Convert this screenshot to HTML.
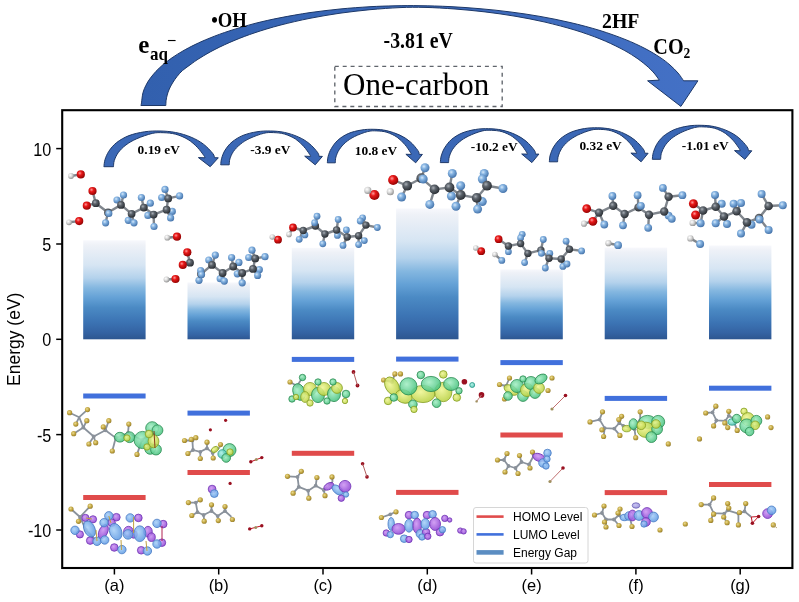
<!DOCTYPE html>
<html><head><meta charset="utf-8"><style>
html,body{margin:0;padding:0;background:#fff;width:799px;height:602px;overflow:hidden}
svg{display:block}
</style></head><body>
<svg width="799" height="602" viewBox="0 0 799 602">
<defs>
<linearGradient id="gap" x1="0" y1="0" x2="0" y2="1">
  <stop offset="0" stop-color="#f7f8fc"/>
  <stop offset="0.05" stop-color="#eef1f7"/>
  <stop offset="0.25" stop-color="#d6e5f3"/>
  <stop offset="0.38" stop-color="#b4d2ec"/>
  <stop offset="0.48" stop-color="#84b7e0"/>
  <stop offset="0.58" stop-color="#64a1d6"/>
  <stop offset="0.68" stop-color="#4b8ac4"/>
  <stop offset="0.82" stop-color="#3c74b4"/>
  <stop offset="0.93" stop-color="#3463a3"/>
  <stop offset="1" stop-color="#2d5690"/>
</linearGradient>
<radialGradient id="gF" cx="0.38" cy="0.35" r="0.7">
  <stop offset="0" stop-color="#d6e8f8"/>
  <stop offset="0.35" stop-color="#86b4e2"/>
  <stop offset="1" stop-color="#3f6ea6"/>
</radialGradient>
<radialGradient id="gC" cx="0.38" cy="0.35" r="0.7">
  <stop offset="0" stop-color="#a9afb6"/>
  <stop offset="0.35" stop-color="#5d646c"/>
  <stop offset="1" stop-color="#25292e"/>
</radialGradient>
<radialGradient id="gO" cx="0.38" cy="0.35" r="0.7">
  <stop offset="0" stop-color="#ff9a9a"/>
  <stop offset="0.35" stop-color="#e81818"/>
  <stop offset="1" stop-color="#8a0000"/>
</radialGradient>
<radialGradient id="gH" cx="0.38" cy="0.35" r="0.7">
  <stop offset="0" stop-color="#ffffff"/>
  <stop offset="0.45" stop-color="#d8d8d8"/>
  <stop offset="1" stop-color="#8c8c8c"/>
</radialGradient>
<radialGradient id="gY" cx="0.4" cy="0.38" r="0.7">
  <stop offset="0" stop-color="#eadc94"/>
  <stop offset="0.5" stop-color="#c4a843"/>
  <stop offset="1" stop-color="#8e7628"/>
</radialGradient>
</defs>

<linearGradient id="arcg" gradientUnits="userSpaceOnUse" x1="140" y1="0" x2="700" y2="0"><stop offset="0" stop-color="#3260ae"/><stop offset="0.5" stop-color="#3a68b8"/><stop offset="1" stop-color="#4471c6"/></linearGradient>
<path d="M140.9,105.5 C141.0,105.1 141.2,105.0 141.5,102.9 C141.8,100.8 142.2,95.6 143.0,92.6 C143.8,89.7 144.8,87.5 146.0,85.2 C147.2,82.8 148.3,80.9 150.0,78.6 C151.7,76.3 153.8,73.7 156.0,71.3 C158.2,69.0 160.3,67.0 163.0,64.7 C165.7,62.5 168.7,60.1 172.0,57.8 C175.3,55.5 179.2,53.1 183.0,50.9 C186.8,48.7 190.5,46.8 195.0,44.6 C199.5,42.4 204.2,40.3 210.0,38.0 C215.8,35.6 222.5,33.1 230.0,30.7 C237.5,28.3 246.7,25.6 255.0,23.4 C263.3,21.3 270.8,19.6 280.0,17.8 C289.2,16.0 300.0,14.1 310.0,12.6 C320.0,11.2 330.0,10.0 340.0,9.0 C350.0,8.0 360.8,7.3 370.0,6.7 C379.2,6.2 386.7,6.0 395.0,5.8 C403.3,5.7 410.8,5.5 420.0,5.7 C429.2,5.8 440.0,6.1 450.0,6.6 C460.0,7.1 470.0,7.8 480.0,8.7 C490.0,9.5 500.0,10.6 510.0,11.9 C520.0,13.2 530.0,14.6 540.0,16.4 C550.0,18.2 560.0,20.1 570.0,22.5 C580.0,24.8 590.8,27.7 600.0,30.5 C609.2,33.4 617.5,36.4 625.0,39.4 C632.5,42.3 639.2,45.5 645.0,48.5 C650.8,51.5 655.8,54.6 660.0,57.4 C664.2,60.1 667.0,62.4 670.0,65.0 C673.0,67.6 675.7,70.4 678.0,73.0 C680.3,75.7 682.7,79.5 683.6,80.8 L697.9,80.8 L680.9,106.4 L647.6,80.8 L659.3,80.1 C658.4,78.9 656.2,75.5 654.0,73.0 C651.8,70.6 649.2,67.9 646.0,65.2 C642.8,62.5 639.3,59.7 635.0,56.9 C630.7,54.0 625.8,51.0 620.0,48.1 C614.2,45.1 607.5,41.9 600.0,38.9 C592.5,35.9 584.2,32.9 575.0,30.1 C565.8,27.3 555.0,24.5 545.0,22.1 C535.0,19.8 525.0,17.9 515.0,16.2 C505.0,14.5 495.0,13.1 485.0,11.9 C475.0,10.7 465.0,9.8 455.0,9.0 C445.0,8.3 434.2,7.6 425.0,7.4 C415.8,7.2 409.2,7.2 400.0,7.6 C390.8,8.0 380.0,8.8 370.0,9.7 C360.0,10.7 350.0,11.8 340.0,13.2 C330.0,14.7 320.0,16.3 310.0,18.3 C300.0,20.3 289.2,22.8 280.0,25.2 C270.8,27.6 262.5,30.2 255.0,32.7 C247.5,35.2 241.7,37.4 235.0,40.2 C228.3,42.9 220.8,46.4 215.0,49.4 C209.2,52.3 204.2,55.4 200.0,58.0 C195.8,60.5 192.9,62.8 190.0,64.9 C187.1,67.0 184.7,68.6 182.5,70.5 C180.3,72.4 178.7,74.4 177.0,76.5 C175.3,78.6 173.8,80.9 172.5,83.0 C171.2,85.1 170.2,87.0 169.3,89.0 C168.4,91.0 167.7,93.1 167.2,95.0 C166.7,96.9 166.3,98.8 166.1,100.5 C165.9,102.2 165.9,104.7 165.8,105.5 Z" fill="url(#arcg)" stroke="#1d3868" stroke-width="1" stroke-linejoin="miter"/>
<path d="M103.9,166.7 C104.1,165.5 104.2,162.3 105.0,159.7 C105.8,157.1 107.0,154.0 108.9,151.2 C110.8,148.3 113.3,145.2 116.6,142.6 C120.0,140.0 124.3,137.4 129.0,135.6 C133.7,133.8 139.4,132.6 144.6,131.8 C149.8,131.0 154.8,130.9 160.0,131.0 C165.2,131.1 170.4,131.5 175.6,132.5 C180.8,133.5 186.5,135.2 191.1,137.2 C195.8,139.1 199.9,141.5 203.5,144.2 C207.1,146.9 211.0,151.2 212.8,153.5 C214.6,155.8 214.2,157.0 214.5,157.7 L218.3,157.8 L210.2,166.7 L198.4,157.6 L205.0,157.8 C204.8,157.4 205.2,157.3 203.9,155.6 C202.6,153.8 200.0,150.0 197.3,147.3 C194.7,144.6 191.6,141.7 188.0,139.5 C184.4,137.3 179.7,135.3 175.6,134.2 C171.5,133.1 167.1,132.8 163.2,132.7 C159.3,132.6 156.7,132.4 152.3,133.4 C147.9,134.4 141.2,136.8 136.8,138.7 C132.4,140.6 129.0,142.7 125.9,145.0 C122.8,147.3 120.1,150.1 118.2,152.7 C116.3,155.3 115.1,158.2 114.3,160.5 C113.5,162.8 113.6,165.7 113.5,166.7 Z" fill="#3b68b6" stroke="#1d3868" stroke-width="1"/>
<path d="M220.7,164.8 C220.9,163.7 220.9,160.6 221.7,158.2 C222.4,155.7 223.4,152.8 225.1,150.1 C226.9,147.4 229.0,144.4 232.0,142.0 C235.0,139.5 238.9,137.1 243.0,135.4 C247.2,133.7 252.3,132.5 256.9,131.8 C261.5,131.0 266.0,130.9 270.6,131.0 C275.2,131.1 279.8,131.4 284.4,132.4 C289.0,133.4 294.1,135.0 298.2,136.9 C302.4,138.7 306.0,140.9 309.2,143.5 C312.5,146.1 315.9,150.2 317.5,152.3 C319.1,154.4 318.8,155.6 319.0,156.3 L322.4,156.4 L315.2,164.8 L304.7,156.2 L310.6,156.4 C310.4,156.0 310.7,155.9 309.6,154.3 C308.5,152.6 306.1,149.0 303.7,146.4 C301.4,143.9 298.7,141.1 295.5,139.0 C292.2,137.0 288.1,135.1 284.4,134.0 C280.8,133.0 276.9,132.7 273.4,132.6 C270.0,132.5 267.6,132.3 263.7,133.3 C259.8,134.2 253.9,136.5 249.9,138.3 C246.0,140.1 243.0,142.0 240.3,144.3 C237.5,146.5 235.1,149.1 233.4,151.5 C231.7,154.0 230.6,156.7 229.9,158.9 C229.2,161.1 229.4,163.8 229.2,164.8 Z" fill="#3b68b6" stroke="#1d3868" stroke-width="1"/>
<path d="M327.3,162.8 C327.5,161.7 327.5,158.7 328.2,156.2 C328.9,153.8 329.8,150.9 331.5,148.3 C333.1,145.6 335.1,142.6 337.9,140.2 C340.6,137.7 344.3,135.3 348.2,133.6 C352.0,131.9 356.8,130.8 361.1,130.1 C365.4,129.3 369.6,129.2 373.9,129.3 C378.2,129.4 382.6,129.7 386.9,130.7 C391.2,131.7 395.9,133.3 399.8,135.1 C403.7,136.9 407.1,139.1 410.1,141.7 C413.1,144.2 416.3,148.3 417.8,150.4 C419.4,152.5 419.0,153.7 419.2,154.4 L422.4,154.4 L415.7,162.8 L405.9,154.3 L411.3,154.4 C411.2,154.1 411.5,154.0 410.4,152.4 C409.4,150.7 407.1,147.1 404.9,144.6 C402.7,142.1 400.2,139.3 397.2,137.3 C394.2,135.2 390.3,133.4 386.9,132.3 C383.5,131.2 379.8,131.0 376.6,130.9 C373.4,130.8 371.2,130.6 367.5,131.6 C363.9,132.5 358.3,134.7 354.6,136.5 C351.0,138.3 348.2,140.2 345.6,142.4 C343.0,144.6 340.8,147.2 339.2,149.7 C337.6,152.1 336.6,154.8 335.9,157.0 C335.3,159.2 335.4,161.8 335.3,162.8 Z" fill="#3b68b6" stroke="#1d3868" stroke-width="1"/>
<path d="M440.3,162.6 C440.5,161.5 440.5,158.4 441.2,156.0 C442.0,153.5 442.9,150.6 444.6,147.9 C446.3,145.2 448.4,142.2 451.2,139.7 C454.1,137.2 457.9,134.8 461.9,133.1 C466.0,131.4 470.9,130.2 475.4,129.5 C479.8,128.7 484.2,128.6 488.7,128.7 C493.1,128.8 497.6,129.1 502.1,130.1 C506.6,131.1 511.4,132.7 515.5,134.6 C519.5,136.4 523.0,138.7 526.1,141.2 C529.3,143.8 532.6,147.9 534.2,150.1 C535.7,152.2 535.4,153.4 535.6,154.1 L538.9,154.1 L531.9,162.6 L521.7,154.0 L527.4,154.1 C527.3,153.8 527.6,153.7 526.5,152.1 C525.4,150.4 523.1,146.7 520.8,144.2 C518.5,141.6 515.9,138.8 512.8,136.8 C509.7,134.7 505.7,132.8 502.1,131.7 C498.5,130.7 494.8,130.4 491.4,130.3 C488.1,130.2 485.8,130.0 482.0,131.0 C478.2,131.9 472.4,134.2 468.7,136.0 C464.9,137.8 461.9,139.8 459.3,142.0 C456.6,144.2 454.3,146.9 452.6,149.3 C451.0,151.8 449.9,154.5 449.3,156.7 C448.6,158.9 448.7,161.6 448.6,162.6 Z" fill="#3b68b6" stroke="#1d3868" stroke-width="1"/>
<path d="M549.3,161.8 C549.5,160.7 549.5,157.6 550.2,155.1 C551.0,152.7 551.9,149.8 553.6,147.0 C555.3,144.3 557.4,141.3 560.3,138.8 C563.2,136.4 566.9,133.9 571.0,132.2 C575.0,130.5 580.0,129.3 584.4,128.6 C588.9,127.8 593.3,127.7 597.8,127.8 C602.2,127.9 606.7,128.2 611.2,129.2 C615.7,130.2 620.6,131.8 624.6,133.7 C628.6,135.6 632.2,137.8 635.3,140.4 C638.4,143.0 641.8,147.1 643.4,149.2 C644.9,151.4 644.6,152.6 644.8,153.2 L648.1,153.3 L641.1,161.8 L630.9,153.1 L636.6,153.3 C636.5,153.0 636.8,152.9 635.7,151.2 C634.6,149.6 632.3,145.9 630.0,143.3 C627.7,140.8 625.1,138.0 621.9,135.9 C618.8,133.8 614.8,131.9 611.2,130.8 C607.7,129.8 603.9,129.5 600.5,129.4 C597.2,129.3 594.9,129.1 591.1,130.1 C587.3,131.0 581.5,133.3 577.7,135.1 C573.9,137.0 571.0,138.9 568.3,141.1 C565.6,143.4 563.3,146.0 561.6,148.5 C560.0,150.9 559.0,153.7 558.3,155.9 C557.6,158.1 557.7,160.8 557.6,161.8 Z" fill="#3b68b6" stroke="#1d3868" stroke-width="1"/>
<path d="M652.3,159.3 C652.5,158.2 652.5,155.1 653.3,152.6 C654.0,150.2 655.0,147.3 656.6,144.5 C658.3,141.8 660.4,138.8 663.3,136.3 C666.3,133.9 670.1,131.4 674.1,129.7 C678.2,128.0 683.2,126.8 687.7,126.1 C692.2,125.3 696.6,125.2 701.1,125.3 C705.6,125.4 710.2,125.7 714.7,126.7 C719.2,127.7 724.1,129.3 728.1,131.2 C732.2,133.1 735.8,135.3 738.9,137.9 C742.1,140.5 745.4,144.6 747.0,146.7 C748.6,148.9 748.2,150.1 748.5,150.7 L751.8,150.8 L744.8,159.3 L734.5,150.6 L740.2,150.8 C740.1,150.5 740.4,150.4 739.3,148.7 C738.2,147.1 735.8,143.4 733.5,140.8 C731.2,138.3 728.6,135.5 725.4,133.4 C722.3,131.3 718.3,129.4 714.7,128.3 C711.1,127.3 707.3,127.0 703.9,126.9 C700.5,126.8 698.2,126.6 694.4,127.6 C690.6,128.5 684.7,130.8 680.9,132.6 C677.1,134.5 674.1,136.4 671.4,138.6 C668.7,140.9 666.4,143.5 664.7,146.0 C663.1,148.4 662.0,151.2 661.3,153.4 C660.7,155.6 660.8,158.3 660.6,159.3 Z" fill="#3b68b6" stroke="#1d3868" stroke-width="1"/>
<text transform="translate(138.3,53.1) scale(1,1.000)" font-family="Liberation Serif, serif" font-weight="bold" font-size="25.0">e</text>
<text transform="translate(150.0,59.5) scale(1,1.100)" font-family="Liberation Serif, serif" font-weight="bold" font-size="17.0">aq</text>
<text transform="translate(166.9,45.9) scale(1,1.000)" font-family="Liberation Serif, serif" font-weight="bold" font-size="16.5">&#8722;</text>
<text transform="translate(211.2,26.6) scale(1,1.130)" font-family="Liberation Serif, serif" font-weight="bold" font-size="18.7">&#8226;OH</text>
<text transform="translate(383.6,48.1) scale(1,1.130)" font-family="Liberation Serif, serif" font-weight="bold" font-size="19.8">-3.81 eV</text>
<text transform="translate(602.0,28.4) scale(1,1.060)" font-family="Liberation Serif, serif" font-weight="bold" font-size="19.8">2HF</text>
<text transform="translate(653.3,54.0) scale(1,1.100)" font-family="Liberation Serif, serif" font-weight="bold" font-size="20.2">CO<tspan font-size="13.5" dy="3.9">2</tspan></text>
<rect x="334.8" y="66.3" width="167.4" height="40.2" fill="none" stroke="#60656c" stroke-width="1.35" stroke-dasharray="4,3.9"/>
<text x="343" y="95" font-family="Liberation Serif, serif" font-size="31">One-carbon</text>
<text transform="translate(137.6,154.0) scale(1,0.980)" font-family="Liberation Serif, serif" font-weight="bold" font-size="13.4">0.19 eV</text>
<text transform="translate(250.3,153.5) scale(1,0.980)" font-family="Liberation Serif, serif" font-weight="bold" font-size="13.4">-3.9 eV</text>
<text transform="translate(354.8,154.8) scale(1,0.980)" font-family="Liberation Serif, serif" font-weight="bold" font-size="13.4">10.8 eV</text>
<text transform="translate(470.8,150.8) scale(1,0.980)" font-family="Liberation Serif, serif" font-weight="bold" font-size="13.4">-10.2 eV</text>
<text transform="translate(579.4,149.5) scale(1,0.980)" font-family="Liberation Serif, serif" font-weight="bold" font-size="13.4">0.32 eV</text>
<text transform="translate(681.8,149.8) scale(1,0.980)" font-family="Liberation Serif, serif" font-weight="bold" font-size="13.4">-1.01 eV</text>
<rect x="83.2" y="240.3" width="62.4" height="99.0" fill="url(#gap)"/>
<rect x="187.5" y="282.4" width="62.4" height="56.9" fill="url(#gap)"/>
<rect x="291.8" y="247.9" width="62.4" height="91.4" fill="url(#gap)"/>
<rect x="396.1" y="208.5" width="62.4" height="130.8" fill="url(#gap)"/>
<rect x="500.4" y="269.4" width="62.4" height="69.9" fill="url(#gap)"/>
<rect x="604.7" y="247.6" width="62.4" height="91.7" fill="url(#gap)"/>
<rect x="709.0" y="245.5" width="62.4" height="93.8" fill="url(#gap)"/>
<rect x="62.2" y="110.2" width="730.2" height="457.8" fill="none" stroke="#000" stroke-width="2.1"/>
<line x1="56.2" y1="148.6" x2="62.2" y2="148.6" stroke="#000" stroke-width="1.5"/>
<text transform="translate(51.3,155.70) scale(1,1.1)" font-family="Liberation Sans, sans-serif" font-size="16.2" text-anchor="end">10</text>
<line x1="56.2" y1="244.0" x2="62.2" y2="244.0" stroke="#000" stroke-width="1.5"/>
<text transform="translate(51.3,251.05) scale(1,1.1)" font-family="Liberation Sans, sans-serif" font-size="16.2" text-anchor="end">5</text>
<line x1="56.2" y1="339.3" x2="62.2" y2="339.3" stroke="#000" stroke-width="1.5"/>
<text transform="translate(51.3,346.40) scale(1,1.1)" font-family="Liberation Sans, sans-serif" font-size="16.2" text-anchor="end">0</text>
<line x1="56.2" y1="434.6" x2="62.2" y2="434.6" stroke="#000" stroke-width="1.5"/>
<text transform="translate(51.3,441.75) scale(1,1.1)" font-family="Liberation Sans, sans-serif" font-size="16.2" text-anchor="end">-5</text>
<line x1="56.2" y1="530.0" x2="62.2" y2="530.0" stroke="#000" stroke-width="1.5"/>
<text transform="translate(51.3,537.10) scale(1,1.1)" font-family="Liberation Sans, sans-serif" font-size="16.2" text-anchor="end">-10</text>
<text transform="translate(20.3,339.3) rotate(-90)" font-family="Liberation Sans, sans-serif" font-size="17.5" text-anchor="middle">Energy (eV)</text>
<line x1="114.4" y1="568" x2="114.4" y2="574.5" stroke="#000" stroke-width="1.5"/>
<text transform="translate(114.4,591.2) scale(1,1.05)" font-family="Liberation Sans, sans-serif" font-size="16.5" text-anchor="middle">(a)</text>
<line x1="218.7" y1="568" x2="218.7" y2="574.5" stroke="#000" stroke-width="1.5"/>
<text transform="translate(218.7,591.2) scale(1,1.05)" font-family="Liberation Sans, sans-serif" font-size="16.5" text-anchor="middle">(b)</text>
<line x1="323.0" y1="568" x2="323.0" y2="574.5" stroke="#000" stroke-width="1.5"/>
<text transform="translate(323.0,591.2) scale(1,1.05)" font-family="Liberation Sans, sans-serif" font-size="16.5" text-anchor="middle">(c)</text>
<line x1="427.3" y1="568" x2="427.3" y2="574.5" stroke="#000" stroke-width="1.5"/>
<text transform="translate(427.3,591.2) scale(1,1.05)" font-family="Liberation Sans, sans-serif" font-size="16.5" text-anchor="middle">(d)</text>
<line x1="531.6" y1="568" x2="531.6" y2="574.5" stroke="#000" stroke-width="1.5"/>
<text transform="translate(531.6,591.2) scale(1,1.05)" font-family="Liberation Sans, sans-serif" font-size="16.5" text-anchor="middle">(e)</text>
<line x1="635.9" y1="568" x2="635.9" y2="574.5" stroke="#000" stroke-width="1.5"/>
<text transform="translate(635.9,591.2) scale(1,1.05)" font-family="Liberation Sans, sans-serif" font-size="16.5" text-anchor="middle">(f)</text>
<line x1="740.2" y1="568" x2="740.2" y2="574.5" stroke="#000" stroke-width="1.5"/>
<text transform="translate(740.2,591.2) scale(1,1.05)" font-family="Liberation Sans, sans-serif" font-size="16.5" text-anchor="middle">(g)</text>
<g stroke="#80868d" stroke-width="2.4" stroke-linecap="round"><line x1="95.8" y1="203.2" x2="108.0" y2="212.5"/><line x1="108.0" y1="212.5" x2="121.0" y2="204.9"/><line x1="121.0" y1="204.9" x2="131.6" y2="213.8"/><line x1="131.6" y1="213.8" x2="143.8" y2="207.6"/><line x1="143.8" y1="207.6" x2="153.6" y2="214.6"/><line x1="153.6" y1="214.6" x2="166.6" y2="209.7"/><line x1="166.6" y1="209.7" x2="168.2" y2="198.4"/><line x1="123.5" y1="195.0" x2="121.0" y2="204.9"/><line x1="117.0" y1="200.0" x2="121.0" y2="204.9"/><line x1="108.8" y1="213.5" x2="108.0" y2="212.5"/><line x1="105.6" y1="222.8" x2="108.0" y2="212.5"/><line x1="128.3" y1="220.3" x2="131.6" y2="213.8"/><line x1="134.0" y1="222.8" x2="131.6" y2="213.8"/><line x1="141.4" y1="197.5" x2="143.8" y2="207.6"/><line x1="150.3" y1="203.2" x2="143.8" y2="207.6"/><line x1="147.9" y1="215.4" x2="153.6" y2="214.6"/><line x1="154.0" y1="226.5" x2="153.6" y2="214.6"/><line x1="165.0" y1="189.4" x2="168.2" y2="198.4"/><line x1="161.7" y1="197.5" x2="168.2" y2="198.4"/><line x1="179.6" y1="195.9" x2="168.2" y2="198.4"/><line x1="172.3" y1="211.4" x2="166.6" y2="209.7"/><line x1="170.6" y1="217.9" x2="166.6" y2="209.7"/><line x1="92.5" y1="191.0" x2="95.8" y2="203.2"/><line x1="86.8" y1="205.7" x2="95.8" y2="203.2"/><line x1="71.0" y1="176.0" x2="80.8" y2="174.4"/><line x1="69.0" y1="222.3" x2="79.2" y2="221.1"/><line x1="201.0" y1="274.0" x2="212.0" y2="264.9"/><line x1="212.0" y1="264.9" x2="222.6" y2="273.0"/><line x1="222.6" y1="273.0" x2="233.2" y2="266.5"/><line x1="233.2" y1="266.5" x2="242.2" y2="273.0"/><line x1="242.2" y1="273.0" x2="253.0" y2="268.9"/><line x1="253.0" y1="268.9" x2="255.2" y2="258.4"/><line x1="200.7" y1="270.6" x2="201.0" y2="274.0"/><line x1="199.0" y1="280.3" x2="201.0" y2="274.0"/><line x1="215.3" y1="255.1" x2="212.0" y2="264.9"/><line x1="208.8" y1="260.0" x2="212.0" y2="264.9"/><line x1="220.2" y1="278.7" x2="222.6" y2="273.0"/><line x1="224.3" y1="281.1" x2="222.6" y2="273.0"/><line x1="231.6" y1="257.5" x2="233.2" y2="266.5"/><line x1="238.9" y1="262.4" x2="233.2" y2="266.5"/><line x1="242.2" y1="282.8" x2="242.2" y2="273.0"/><line x1="237.3" y1="273.8" x2="242.2" y2="273.0"/><line x1="259.3" y1="269.7" x2="253.0" y2="268.9"/><line x1="257.6" y1="275.4" x2="253.0" y2="268.9"/><line x1="252.0" y1="250.2" x2="255.2" y2="258.4"/><line x1="248.7" y1="257.5" x2="255.2" y2="258.4"/><line x1="265.0" y1="256.7" x2="255.2" y2="258.4"/><line x1="201.5" y1="274.6" x2="201.0" y2="274.0"/><line x1="187.3" y1="252.3" x2="190.0" y2="262.7"/><line x1="182.8" y1="264.9" x2="190.0" y2="262.7"/><line x1="167.3" y1="237.7" x2="177.0" y2="236.7"/><line x1="166.5" y1="279.5" x2="175.5" y2="279.0"/><line x1="303.2" y1="230.5" x2="315.4" y2="226.0"/><line x1="315.4" y1="226.0" x2="324.9" y2="234.0"/><line x1="324.9" y1="234.0" x2="336.6" y2="230.0"/><line x1="336.6" y1="230.0" x2="347.2" y2="237.0"/><line x1="347.2" y1="237.0" x2="358.6" y2="235.7"/><line x1="358.6" y1="235.7" x2="365.9" y2="225.1"/><line x1="299.2" y1="239.3" x2="303.2" y2="230.5"/><line x1="304.9" y1="234.9" x2="303.2" y2="230.5"/><line x1="317.0" y1="216.2" x2="315.4" y2="226.0"/><line x1="314.6" y1="222.7" x2="315.4" y2="226.0"/><line x1="322.8" y1="243.8" x2="324.9" y2="234.0"/><line x1="338.2" y1="219.4" x2="336.6" y2="230.0"/><line x1="337.4" y1="235.4" x2="336.6" y2="230.0"/><line x1="346.4" y1="230.0" x2="347.2" y2="237.0"/><line x1="343.0" y1="245.4" x2="347.2" y2="237.0"/><line x1="358.6" y1="244.6" x2="358.6" y2="235.7"/><line x1="364.3" y1="240.6" x2="358.6" y2="235.7"/><line x1="362.6" y1="217.8" x2="365.9" y2="225.1"/><line x1="360.2" y1="221.0" x2="365.9" y2="225.1"/><line x1="377.3" y1="227.5" x2="365.9" y2="225.1"/><line x1="293.0" y1="227.5" x2="303.2" y2="230.5"/><line x1="272.3" y1="237.0" x2="278.0" y2="239.7"/><line x1="289.0" y1="234.4" x2="293.0" y2="227.5"/><line x1="407.2" y1="185.7" x2="421.3" y2="178.2"/><line x1="421.3" y1="178.2" x2="434.5" y2="189.4"/><line x1="434.5" y1="189.4" x2="449.5" y2="187.5"/><line x1="449.5" y1="187.5" x2="460.7" y2="195.0"/><line x1="460.7" y1="195.0" x2="476.7" y2="197.9"/><line x1="476.7" y1="197.9" x2="487.0" y2="185.7"/><line x1="401.6" y1="197.0" x2="407.2" y2="185.7"/><line x1="425.0" y1="167.8" x2="421.3" y2="178.2"/><line x1="423.2" y1="179.0" x2="421.3" y2="178.2"/><line x1="429.8" y1="204.4" x2="434.5" y2="189.4"/><line x1="452.3" y1="173.5" x2="449.5" y2="187.5"/><line x1="451.4" y1="196.0" x2="449.5" y2="187.5"/><line x1="460.7" y1="185.7" x2="460.7" y2="195.0"/><line x1="456.0" y1="206.3" x2="460.7" y2="195.0"/><line x1="477.6" y1="209.1" x2="476.7" y2="197.9"/><line x1="482.3" y1="201.6" x2="476.7" y2="197.9"/><line x1="484.2" y1="173.5" x2="487.0" y2="185.7"/><line x1="482.3" y1="179.0" x2="487.0" y2="185.7"/><line x1="503.0" y1="188.5" x2="487.0" y2="185.7"/><line x1="393.2" y1="180.0" x2="407.2" y2="185.7"/><line x1="367.8" y1="190.4" x2="374.4" y2="195.0"/><line x1="508.4" y1="246.0" x2="520.6" y2="243.6"/><line x1="520.6" y1="243.6" x2="527.9" y2="253.4"/><line x1="527.9" y1="253.4" x2="540.9" y2="250.1"/><line x1="540.9" y1="250.1" x2="549.0" y2="258.2"/><line x1="549.0" y1="258.2" x2="561.2" y2="259.0"/><line x1="561.2" y1="259.0" x2="569.4" y2="249.3"/><line x1="508.4" y1="251.7" x2="508.4" y2="246.0"/><line x1="522.2" y1="234.3" x2="520.6" y2="243.6"/><line x1="520.6" y1="237.9" x2="520.6" y2="243.6"/><line x1="524.6" y1="262.6" x2="527.9" y2="253.4"/><line x1="543.3" y1="239.5" x2="540.9" y2="250.1"/><line x1="541.4" y1="253.4" x2="540.9" y2="250.1"/><line x1="549.8" y1="253.4" x2="549.0" y2="258.2"/><line x1="545.3" y1="268.0" x2="549.0" y2="258.2"/><line x1="562.9" y1="266.4" x2="561.2" y2="259.0"/><line x1="567.0" y1="264.0" x2="561.2" y2="259.0"/><line x1="566.1" y1="241.2" x2="569.4" y2="249.3"/><line x1="581.6" y1="250.9" x2="569.4" y2="249.3"/><line x1="498.6" y1="239.2" x2="508.4" y2="246.0"/><line x1="475.8" y1="248.0" x2="481.2" y2="251.2"/><line x1="494.9" y1="254.5" x2="501.8" y2="260.4"/><line x1="599.0" y1="212.6" x2="613.2" y2="205.8"/><line x1="613.2" y1="205.8" x2="624.6" y2="214.0"/><line x1="624.6" y1="214.0" x2="638.5" y2="207.4"/><line x1="638.5" y1="207.4" x2="649.0" y2="214.7"/><line x1="649.0" y1="214.7" x2="664.2" y2="211.5"/><line x1="664.2" y1="211.5" x2="668.6" y2="196.8"/><line x1="604.3" y1="224.5" x2="599.0" y2="212.6"/><line x1="612.4" y1="196.0" x2="613.2" y2="205.8"/><line x1="623.0" y1="225.3" x2="624.6" y2="214.0"/><line x1="637.6" y1="195.2" x2="638.5" y2="207.4"/><line x1="640.9" y1="205.8" x2="638.5" y2="207.4"/><line x1="648.2" y1="227.8" x2="649.0" y2="214.7"/><line x1="668.6" y1="215.6" x2="664.2" y2="211.5"/><line x1="671.8" y1="218.8" x2="664.2" y2="211.5"/><line x1="662.9" y1="187.9" x2="668.6" y2="196.8"/><line x1="682.4" y1="195.2" x2="668.6" y2="196.8"/><line x1="586.7" y1="208.7" x2="599.0" y2="212.6"/><line x1="592.9" y1="221.3" x2="599.0" y2="212.6"/><line x1="584.0" y1="223.7" x2="592.9" y2="221.3"/><line x1="608.4" y1="243.2" x2="618.1" y2="245.2"/><line x1="703.1" y1="210.5" x2="715.7" y2="206.8"/><line x1="715.7" y1="206.8" x2="724.0" y2="216.5"/><line x1="724.0" y1="216.5" x2="736.6" y2="211.3"/><line x1="736.6" y1="211.3" x2="747.0" y2="222.4"/><line x1="747.0" y1="222.4" x2="759.0" y2="218.0"/><line x1="759.0" y1="218.0" x2="768.6" y2="206.0"/><line x1="715.0" y1="194.9" x2="715.7" y2="206.8"/><line x1="721.7" y1="203.8" x2="715.7" y2="206.8"/><line x1="715.7" y1="223.2" x2="724.0" y2="216.5"/><line x1="727.0" y1="224.0" x2="724.0" y2="216.5"/><line x1="733.6" y1="203.8" x2="736.6" y2="211.3"/><line x1="741.0" y1="203.0" x2="736.6" y2="211.3"/><line x1="741.0" y1="233.6" x2="747.0" y2="222.4"/><line x1="751.5" y1="224.7" x2="747.0" y2="222.4"/><line x1="768.6" y1="229.9" x2="759.0" y2="218.0"/><line x1="759.5" y1="219.5" x2="759.0" y2="218.0"/><line x1="761.6" y1="194.1" x2="768.6" y2="206.0"/><line x1="782.8" y1="205.3" x2="768.6" y2="206.0"/><line x1="700.6" y1="223.2" x2="703.1" y2="210.5"/><line x1="693.4" y1="203.8" x2="703.1" y2="210.5"/><line x1="695.6" y1="215.0" x2="703.1" y2="210.5"/><line x1="692.7" y1="222.9" x2="700.6" y2="223.2"/><line x1="690.4" y1="238.4" x2="700.1" y2="244.0"/></g>
<circle cx="123.5" cy="195.0" r="3.6" fill="url(#gF)"/><circle cx="117.0" cy="200.0" r="3.6" fill="url(#gF)"/><circle cx="105.6" cy="222.8" r="3.6" fill="url(#gF)"/><circle cx="128.3" cy="220.3" r="3.6" fill="url(#gF)"/><circle cx="134.0" cy="222.8" r="3.6" fill="url(#gF)"/><circle cx="141.4" cy="197.5" r="3.6" fill="url(#gF)"/><circle cx="150.3" cy="203.2" r="3.6" fill="url(#gF)"/><circle cx="147.9" cy="215.4" r="3.6" fill="url(#gF)"/><circle cx="154.0" cy="226.5" r="3.6" fill="url(#gF)"/><circle cx="165.0" cy="189.4" r="3.6" fill="url(#gF)"/><circle cx="161.7" cy="197.5" r="3.6" fill="url(#gF)"/><circle cx="179.6" cy="195.9" r="3.6" fill="url(#gF)"/><circle cx="172.3" cy="211.4" r="3.6" fill="url(#gF)"/><circle cx="170.6" cy="217.9" r="3.6" fill="url(#gF)"/><circle cx="199.0" cy="280.3" r="3.6" fill="url(#gF)"/><circle cx="215.3" cy="255.1" r="3.6" fill="url(#gF)"/><circle cx="208.8" cy="260.0" r="3.6" fill="url(#gF)"/><circle cx="220.2" cy="278.7" r="3.6" fill="url(#gF)"/><circle cx="224.3" cy="281.1" r="3.6" fill="url(#gF)"/><circle cx="231.6" cy="257.5" r="3.6" fill="url(#gF)"/><circle cx="238.9" cy="262.4" r="3.6" fill="url(#gF)"/><circle cx="242.2" cy="282.8" r="3.6" fill="url(#gF)"/><circle cx="237.3" cy="273.8" r="3.6" fill="url(#gF)"/><circle cx="259.3" cy="269.7" r="3.6" fill="url(#gF)"/><circle cx="257.6" cy="275.4" r="3.6" fill="url(#gF)"/><circle cx="252.0" cy="250.2" r="3.6" fill="url(#gF)"/><circle cx="248.7" cy="257.5" r="3.6" fill="url(#gF)"/><circle cx="265.0" cy="256.7" r="3.6" fill="url(#gF)"/><circle cx="299.2" cy="239.3" r="3.4" fill="url(#gF)"/><circle cx="304.9" cy="234.9" r="3.4" fill="url(#gF)"/><circle cx="317.0" cy="216.2" r="3.4" fill="url(#gF)"/><circle cx="322.8" cy="243.8" r="3.4" fill="url(#gF)"/><circle cx="338.2" cy="219.4" r="3.4" fill="url(#gF)"/><circle cx="337.4" cy="235.4" r="3.4" fill="url(#gF)"/><circle cx="346.4" cy="230.0" r="3.4" fill="url(#gF)"/><circle cx="343.0" cy="245.4" r="3.4" fill="url(#gF)"/><circle cx="358.6" cy="244.6" r="3.4" fill="url(#gF)"/><circle cx="364.3" cy="240.6" r="3.4" fill="url(#gF)"/><circle cx="362.6" cy="217.8" r="3.4" fill="url(#gF)"/><circle cx="360.2" cy="221.0" r="3.4" fill="url(#gF)"/><circle cx="377.3" cy="227.5" r="3.4" fill="url(#gF)"/><circle cx="401.6" cy="197.0" r="4.5" fill="url(#gF)"/><circle cx="425.0" cy="167.8" r="4.5" fill="url(#gF)"/><circle cx="429.8" cy="204.4" r="4.5" fill="url(#gF)"/><circle cx="452.3" cy="173.5" r="4.5" fill="url(#gF)"/><circle cx="451.4" cy="196.0" r="4.5" fill="url(#gF)"/><circle cx="460.7" cy="185.7" r="4.5" fill="url(#gF)"/><circle cx="456.0" cy="206.3" r="4.5" fill="url(#gF)"/><circle cx="477.6" cy="209.1" r="4.5" fill="url(#gF)"/><circle cx="482.3" cy="201.6" r="4.5" fill="url(#gF)"/><circle cx="484.2" cy="173.5" r="4.5" fill="url(#gF)"/><circle cx="482.3" cy="179.0" r="4.5" fill="url(#gF)"/><circle cx="503.0" cy="188.5" r="4.5" fill="url(#gF)"/><circle cx="508.4" cy="251.7" r="3.4" fill="url(#gF)"/><circle cx="522.2" cy="234.3" r="3.4" fill="url(#gF)"/><circle cx="520.6" cy="237.9" r="3.4" fill="url(#gF)"/><circle cx="524.6" cy="262.6" r="3.4" fill="url(#gF)"/><circle cx="543.3" cy="239.5" r="3.4" fill="url(#gF)"/><circle cx="549.8" cy="253.4" r="3.4" fill="url(#gF)"/><circle cx="545.3" cy="268.0" r="3.4" fill="url(#gF)"/><circle cx="562.9" cy="266.4" r="3.4" fill="url(#gF)"/><circle cx="567.0" cy="264.0" r="3.4" fill="url(#gF)"/><circle cx="566.1" cy="241.2" r="3.4" fill="url(#gF)"/><circle cx="581.6" cy="250.9" r="3.4" fill="url(#gF)"/><circle cx="501.8" cy="260.4" r="3.4" fill="url(#gF)"/><circle cx="604.3" cy="224.5" r="3.9" fill="url(#gF)"/><circle cx="612.4" cy="196.0" r="3.9" fill="url(#gF)"/><circle cx="623.0" cy="225.3" r="3.9" fill="url(#gF)"/><circle cx="637.6" cy="195.2" r="3.9" fill="url(#gF)"/><circle cx="648.2" cy="227.8" r="3.9" fill="url(#gF)"/><circle cx="668.6" cy="215.6" r="3.9" fill="url(#gF)"/><circle cx="671.8" cy="218.8" r="3.9" fill="url(#gF)"/><circle cx="662.9" cy="187.9" r="3.9" fill="url(#gF)"/><circle cx="682.4" cy="195.2" r="3.9" fill="url(#gF)"/><circle cx="618.1" cy="245.2" r="3.9" fill="url(#gF)"/><circle cx="715.0" cy="194.9" r="4.0" fill="url(#gF)"/><circle cx="721.7" cy="203.8" r="4.0" fill="url(#gF)"/><circle cx="715.7" cy="223.2" r="4.0" fill="url(#gF)"/><circle cx="727.0" cy="224.0" r="4.0" fill="url(#gF)"/><circle cx="733.6" cy="203.8" r="4.0" fill="url(#gF)"/><circle cx="741.0" cy="203.0" r="4.0" fill="url(#gF)"/><circle cx="741.0" cy="233.6" r="4.0" fill="url(#gF)"/><circle cx="751.5" cy="224.7" r="4.0" fill="url(#gF)"/><circle cx="768.6" cy="229.9" r="4.0" fill="url(#gF)"/><circle cx="761.6" cy="194.1" r="4.0" fill="url(#gF)"/><circle cx="782.8" cy="205.3" r="4.0" fill="url(#gF)"/><circle cx="700.6" cy="223.2" r="4.0" fill="url(#gF)"/><circle cx="700.1" cy="244.0" r="4.0" fill="url(#gF)"/><circle cx="95.8" cy="203.2" r="3.9" fill="url(#gC)"/><circle cx="108.0" cy="212.5" r="3.9" fill="url(#gC)"/><circle cx="121.0" cy="204.9" r="3.9" fill="url(#gC)"/><circle cx="131.6" cy="213.8" r="3.9" fill="url(#gC)"/><circle cx="143.8" cy="207.6" r="3.9" fill="url(#gC)"/><circle cx="153.6" cy="214.6" r="3.9" fill="url(#gC)"/><circle cx="166.6" cy="209.7" r="3.9" fill="url(#gC)"/><circle cx="168.2" cy="198.4" r="3.9" fill="url(#gC)"/><circle cx="190.0" cy="262.7" r="3.9" fill="url(#gC)"/><circle cx="201.0" cy="274.0" r="3.9" fill="url(#gC)"/><circle cx="212.0" cy="264.9" r="3.9" fill="url(#gC)"/><circle cx="222.6" cy="273.0" r="3.9" fill="url(#gC)"/><circle cx="233.2" cy="266.5" r="3.9" fill="url(#gC)"/><circle cx="242.2" cy="273.0" r="3.9" fill="url(#gC)"/><circle cx="253.0" cy="268.9" r="3.9" fill="url(#gC)"/><circle cx="255.2" cy="258.4" r="3.9" fill="url(#gC)"/><circle cx="303.2" cy="230.5" r="3.7" fill="url(#gC)"/><circle cx="315.4" cy="226.0" r="3.7" fill="url(#gC)"/><circle cx="324.9" cy="234.0" r="3.7" fill="url(#gC)"/><circle cx="336.6" cy="230.0" r="3.7" fill="url(#gC)"/><circle cx="347.2" cy="237.0" r="3.7" fill="url(#gC)"/><circle cx="358.6" cy="235.7" r="3.7" fill="url(#gC)"/><circle cx="365.9" cy="225.1" r="3.7" fill="url(#gC)"/><circle cx="407.2" cy="185.7" r="4.9" fill="url(#gC)"/><circle cx="421.3" cy="178.2" r="4.9" fill="url(#gC)"/><circle cx="434.5" cy="189.4" r="4.9" fill="url(#gC)"/><circle cx="449.5" cy="187.5" r="4.9" fill="url(#gC)"/><circle cx="460.7" cy="195.0" r="4.9" fill="url(#gC)"/><circle cx="476.7" cy="197.9" r="4.9" fill="url(#gC)"/><circle cx="487.0" cy="185.7" r="4.9" fill="url(#gC)"/><circle cx="508.4" cy="246.0" r="3.7" fill="url(#gC)"/><circle cx="520.6" cy="243.6" r="3.7" fill="url(#gC)"/><circle cx="527.9" cy="253.4" r="3.7" fill="url(#gC)"/><circle cx="540.9" cy="250.1" r="3.7" fill="url(#gC)"/><circle cx="549.0" cy="258.2" r="3.7" fill="url(#gC)"/><circle cx="561.2" cy="259.0" r="3.7" fill="url(#gC)"/><circle cx="569.4" cy="249.3" r="3.7" fill="url(#gC)"/><circle cx="599.0" cy="212.6" r="4.2" fill="url(#gC)"/><circle cx="613.2" cy="205.8" r="4.2" fill="url(#gC)"/><circle cx="624.6" cy="214.0" r="4.2" fill="url(#gC)"/><circle cx="638.5" cy="207.4" r="4.2" fill="url(#gC)"/><circle cx="649.0" cy="214.7" r="4.2" fill="url(#gC)"/><circle cx="664.2" cy="211.5" r="4.2" fill="url(#gC)"/><circle cx="668.6" cy="196.8" r="4.2" fill="url(#gC)"/><circle cx="703.1" cy="210.5" r="4.3" fill="url(#gC)"/><circle cx="715.7" cy="206.8" r="4.3" fill="url(#gC)"/><circle cx="724.0" cy="216.5" r="4.3" fill="url(#gC)"/><circle cx="736.6" cy="211.3" r="4.3" fill="url(#gC)"/><circle cx="747.0" cy="222.4" r="4.3" fill="url(#gC)"/><circle cx="759.0" cy="218.0" r="4.3" fill="url(#gC)"/><circle cx="768.6" cy="206.0" r="4.3" fill="url(#gC)"/><circle cx="108.8" cy="213.5" r="3.6" fill="url(#gF)"/><circle cx="200.7" cy="270.6" r="3.6" fill="url(#gF)"/><circle cx="201.5" cy="274.6" r="3.6" fill="url(#gF)"/><circle cx="314.6" cy="222.7" r="3.4" fill="url(#gF)"/><circle cx="423.2" cy="179.0" r="4.5" fill="url(#gF)"/><circle cx="541.4" cy="253.4" r="3.4" fill="url(#gF)"/><circle cx="640.9" cy="205.8" r="3.9" fill="url(#gF)"/><circle cx="759.5" cy="219.5" r="4.0" fill="url(#gF)"/><circle cx="92.5" cy="191.0" r="4.1" fill="url(#gO)"/><circle cx="86.8" cy="205.7" r="4.1" fill="url(#gO)"/><circle cx="80.8" cy="174.4" r="4.1" fill="url(#gO)"/><circle cx="79.2" cy="221.1" r="4.1" fill="url(#gO)"/><circle cx="187.3" cy="252.3" r="4.1" fill="url(#gO)"/><circle cx="182.8" cy="264.9" r="4.1" fill="url(#gO)"/><circle cx="177.0" cy="236.7" r="4.1" fill="url(#gO)"/><circle cx="175.5" cy="279.0" r="4.1" fill="url(#gO)"/><circle cx="293.0" cy="227.5" r="3.9" fill="url(#gO)"/><circle cx="278.0" cy="239.7" r="3.9" fill="url(#gO)"/><circle cx="393.2" cy="180.0" r="5.1" fill="url(#gO)"/><circle cx="374.4" cy="195.0" r="5.1" fill="url(#gO)"/><circle cx="498.6" cy="239.2" r="3.9" fill="url(#gO)"/><circle cx="481.2" cy="251.2" r="3.9" fill="url(#gO)"/><circle cx="586.7" cy="208.7" r="4.4" fill="url(#gO)"/><circle cx="592.9" cy="221.3" r="4.4" fill="url(#gO)"/><circle cx="693.4" cy="203.8" r="4.5" fill="url(#gO)"/><circle cx="695.6" cy="215.0" r="4.5" fill="url(#gO)"/><circle cx="71.0" cy="176.0" r="2.9" fill="url(#gH)"/><circle cx="69.0" cy="222.3" r="2.9" fill="url(#gH)"/><circle cx="167.3" cy="237.7" r="2.9" fill="url(#gH)"/><circle cx="166.5" cy="279.5" r="2.9" fill="url(#gH)"/><circle cx="289.0" cy="234.4" r="2.8" fill="url(#gH)"/><circle cx="272.3" cy="237.0" r="2.8" fill="url(#gH)"/><circle cx="390.3" cy="191.7" r="3.6" fill="url(#gH)"/><circle cx="367.8" cy="190.4" r="3.6" fill="url(#gH)"/><circle cx="494.9" cy="254.5" r="2.8" fill="url(#gH)"/><circle cx="475.8" cy="248.0" r="2.8" fill="url(#gH)"/><circle cx="584.0" cy="223.7" r="3.1" fill="url(#gH)"/><circle cx="608.4" cy="243.2" r="3.1" fill="url(#gH)"/><circle cx="692.7" cy="222.9" r="3.2" fill="url(#gH)"/><circle cx="690.4" cy="238.4" r="3.2" fill="url(#gH)"/>
<defs><radialGradient id="lg" cx="0.4" cy="0.38" r="0.65"><stop offset="0" stop-color="#a4eec4"/><stop offset="1" stop-color="#44c07c"/></radialGradient><radialGradient id="ll" cx="0.4" cy="0.38" r="0.65"><stop offset="0" stop-color="#eef592"/><stop offset="1" stop-color="#b8d040"/></radialGradient><radialGradient id="lb" cx="0.4" cy="0.38" r="0.65"><stop offset="0" stop-color="#a8d0f8"/><stop offset="1" stop-color="#5c98e2"/></radialGradient><radialGradient id="lp" cx="0.4" cy="0.38" r="0.65"><stop offset="0" stop-color="#cc94f2"/><stop offset="1" stop-color="#8e44d4"/></radialGradient><radialGradient id="lc" cx="0.4" cy="0.38" r="0.65"><stop offset="0" stop-color="#a8f0e4"/><stop offset="1" stop-color="#48c0ae"/></radialGradient><radialGradient id="lq" cx="0.4" cy="0.38" r="0.65"><stop offset="0" stop-color="#c4bef2"/><stop offset="1" stop-color="#928ad8"/></radialGradient></defs>
<g fill="none" stroke="#8a929c" stroke-width="1.8" stroke-linejoin="round"><polyline points="79.2,417.2 83.3,427.5 93.7,436.5 105.4,430.3 115.7,437.9 128.0,433.0 142.0,440.0 153.0,432.0"/><polyline points="79.2,417.2 69.6,412.7"/><polyline points="79.2,417.2 87.5,409.6"/><polyline points="79.2,417.2 75.8,424.1"/><polyline points="83.3,427.5 73.7,433.7"/><polyline points="83.3,427.5 86.8,420.7"/><polyline points="93.7,436.5 88.9,444.0"/><polyline points="93.7,436.5 95.7,442.7"/><polyline points="105.4,430.3 103.3,426.9"/><polyline points="105.4,430.3 108.8,420.7"/><polyline points="115.7,437.9 112.3,451.0"/><polyline points="128.0,433.0 128.8,424.1"/><polyline points="142.0,440.0 137.0,454.4"/></g>
<g fill="#8a919a"><circle cx="83.3" cy="427.5" r="1.9"/><circle cx="93.7" cy="436.5" r="1.9"/><circle cx="105.4" cy="430.3" r="1.9"/><circle cx="115.7" cy="437.9" r="1.9"/><circle cx="128.0" cy="433.0" r="1.9"/><circle cx="142.0" cy="440.0" r="1.9"/></g>
<g fill="url(#gY)"><circle cx="69.6" cy="412.7" r="2.6"/><circle cx="87.5" cy="409.6" r="2.6"/><circle cx="75.8" cy="424.1" r="2.6"/><circle cx="86.8" cy="420.7" r="2.6"/><circle cx="73.7" cy="433.7" r="2.6"/><circle cx="88.9" cy="444.0" r="2.6"/><circle cx="95.7" cy="442.7" r="2.6"/><circle cx="103.3" cy="426.9" r="2.6"/><circle cx="108.8" cy="420.7" r="2.6"/><circle cx="112.3" cy="451.0" r="2.6"/><circle cx="128.8" cy="424.1" r="2.6"/><circle cx="137.0" cy="454.4" r="2.6"/></g>
<g fill-opacity="0.88" stroke-width="0.8"><ellipse cx="119.9" cy="437.2" rx="5.4" ry="4.9" fill="url(#lg)" stroke="#2a8a50" transform="rotate(0 119.9 437.2)"/><ellipse cx="129.5" cy="437.2" rx="5.4" ry="5.4" fill="url(#lg)" stroke="#2a8a50" transform="rotate(0 129.5 437.2)"/><ellipse cx="127.0" cy="438.0" rx="3.2" ry="3.2" fill="url(#ll)" stroke="#86a024" transform="rotate(0 127.0 438.0)"/><ellipse cx="152.2" cy="428.2" rx="6.5" ry="6.5" fill="url(#lg)" stroke="#2a8a50" transform="rotate(0 152.2 428.2)"/><ellipse cx="157.5" cy="430.3" rx="5.4" ry="5.4" fill="url(#lg)" stroke="#2a8a50" transform="rotate(0 157.5 430.3)"/><ellipse cx="150.2" cy="448.9" rx="5.4" ry="5.4" fill="url(#lg)" stroke="#2a8a50" transform="rotate(0 150.2 448.9)"/><ellipse cx="156.0" cy="449.6" rx="5.4" ry="5.4" fill="url(#lg)" stroke="#2a8a50" transform="rotate(0 156.0 449.6)"/><ellipse cx="142.6" cy="440.0" rx="8.6" ry="8.6" fill="url(#lg)" stroke="#2a8a50" transform="rotate(0 142.6 440.0)"/><ellipse cx="153.5" cy="441.3" rx="5.4" ry="6.5" fill="url(#ll)" stroke="#86a024" transform="rotate(0 153.5 441.3)"/><ellipse cx="149.0" cy="434.0" rx="3.8" ry="3.8" fill="url(#ll)" stroke="#86a024" transform="rotate(0 149.0 434.0)"/><ellipse cx="147.0" cy="447.0" rx="3.2" ry="3.2" fill="url(#ll)" stroke="#86a024" transform="rotate(0 147.0 447.0)"/></g>
<line x1="154.0" y1="431.0" x2="155.0" y2="448.0" stroke="#8b3a1a" stroke-width="1"/>
<g fill="none" stroke="#8a929c" stroke-width="1.8" stroke-linejoin="round"><polyline points="71.0,509.0 80.0,517.0 90.2,506.2"/><polyline points="80.0,517.0 78.5,521.3"/><polyline points="80.0,517.0 86.0,530.0 97.0,541.3"/></g>
<g fill="#8a919a"><circle cx="80.0" cy="517.0" r="1.9"/><circle cx="86.0" cy="530.0" r="1.9"/></g>
<g fill="url(#gY)"><circle cx="71.0" cy="509.0" r="2.6"/><circle cx="90.2" cy="506.2" r="2.6"/><circle cx="78.5" cy="521.3" r="2.6"/></g>
<g fill-opacity="0.88" stroke-width="0.8"><ellipse cx="79.9" cy="534.4" rx="3.6" ry="3.6" fill="url(#lp)" stroke="#7034b4" transform="rotate(0 79.9 534.4)"/><ellipse cx="85.4" cy="517.9" rx="3.6" ry="3.6" fill="url(#lp)" stroke="#7034b4" transform="rotate(0 85.4 517.9)"/><ellipse cx="93.0" cy="519.3" rx="3.6" ry="3.6" fill="url(#lp)" stroke="#7034b4" transform="rotate(0 93.0 519.3)"/><ellipse cx="90.2" cy="540.6" rx="3.8" ry="3.8" fill="url(#lp)" stroke="#7034b4" transform="rotate(0 90.2 540.6)"/><ellipse cx="103.3" cy="531.7" rx="4.3" ry="7.6" fill="url(#lp)" stroke="#7034b4" transform="rotate(25 103.3 531.7)"/><ellipse cx="116.4" cy="517.2" rx="3.8" ry="3.8" fill="url(#lp)" stroke="#7034b4" transform="rotate(0 116.4 517.2)"/><ellipse cx="111.6" cy="522.7" rx="3.8" ry="3.8" fill="url(#lp)" stroke="#7034b4" transform="rotate(0 111.6 522.7)"/><ellipse cx="114.3" cy="547.5" rx="3.8" ry="3.8" fill="url(#lp)" stroke="#7034b4" transform="rotate(0 114.3 547.5)"/><ellipse cx="128.5" cy="531.7" rx="4.9" ry="5.4" fill="url(#lp)" stroke="#7034b4" transform="rotate(0 128.5 531.7)"/><ellipse cx="138.4" cy="517.9" rx="3.8" ry="3.8" fill="url(#lp)" stroke="#7034b4" transform="rotate(0 138.4 517.9)"/><ellipse cx="133.6" cy="534.4" rx="3.8" ry="3.8" fill="url(#lp)" stroke="#7034b4" transform="rotate(0 133.6 534.4)"/><ellipse cx="141.2" cy="550.3" rx="3.8" ry="3.8" fill="url(#lp)" stroke="#7034b4" transform="rotate(0 141.2 550.3)"/><ellipse cx="148.0" cy="531.7" rx="4.3" ry="5.4" fill="url(#lp)" stroke="#7034b4" transform="rotate(0 148.0 531.7)"/><ellipse cx="151.5" cy="537.2" rx="3.8" ry="4.3" fill="url(#lp)" stroke="#7034b4" transform="rotate(0 151.5 537.2)"/><ellipse cx="163.2" cy="524.1" rx="3.8" ry="3.8" fill="url(#lp)" stroke="#7034b4" transform="rotate(0 163.2 524.1)"/><ellipse cx="161.9" cy="542.7" rx="3.8" ry="3.8" fill="url(#lp)" stroke="#7034b4" transform="rotate(0 161.9 542.7)"/><ellipse cx="75.0" cy="530.3" rx="4.2" ry="4.2" fill="url(#lb)" stroke="#4a7cc4" transform="rotate(0 75.0 530.3)"/><ellipse cx="89.5" cy="529.0" rx="5.4" ry="8.5" fill="url(#lb)" stroke="#4a7cc4" transform="rotate(-25 89.5 529.0)"/><ellipse cx="97.0" cy="541.3" rx="4.2" ry="4.2" fill="url(#lb)" stroke="#4a7cc4" transform="rotate(0 97.0 541.3)"/><ellipse cx="104.7" cy="540.0" rx="4.2" ry="4.2" fill="url(#lb)" stroke="#4a7cc4" transform="rotate(0 104.7 540.0)"/><ellipse cx="108.8" cy="515.8" rx="4.2" ry="4.2" fill="url(#lb)" stroke="#4a7cc4" transform="rotate(0 108.8 515.8)"/><ellipse cx="104.0" cy="522.7" rx="4.2" ry="4.2" fill="url(#lb)" stroke="#4a7cc4" transform="rotate(0 104.0 522.7)"/><ellipse cx="115.7" cy="531.7" rx="6.0" ry="8.5" fill="url(#lb)" stroke="#4a7cc4" transform="rotate(-20 115.7 531.7)"/><ellipse cx="130.2" cy="517.9" rx="4.2" ry="4.2" fill="url(#lb)" stroke="#4a7cc4" transform="rotate(0 130.2 517.9)"/><ellipse cx="128.0" cy="534.4" rx="4.8" ry="4.8" fill="url(#lb)" stroke="#4a7cc4" transform="rotate(0 128.0 534.4)"/><ellipse cx="139.8" cy="533.7" rx="6.0" ry="7.9" fill="url(#lb)" stroke="#4a7cc4" transform="rotate(0 139.8 533.7)"/><ellipse cx="121.9" cy="549.6" rx="4.2" ry="4.2" fill="url(#lb)" stroke="#4a7cc4" transform="rotate(0 121.9 549.6)"/><ellipse cx="147.4" cy="551.0" rx="4.2" ry="4.2" fill="url(#lb)" stroke="#4a7cc4" transform="rotate(0 147.4 551.0)"/><ellipse cx="157.0" cy="523.4" rx="4.2" ry="4.2" fill="url(#lb)" stroke="#4a7cc4" transform="rotate(0 157.0 523.4)"/><ellipse cx="157.0" cy="544.0" rx="4.2" ry="4.2" fill="url(#lb)" stroke="#4a7cc4" transform="rotate(0 157.0 544.0)"/></g>
<line x1="162.0" y1="526.0" x2="162.0" y2="541.0" stroke="#b02050" stroke-width="1"/><line x1="133.6" y1="517.0" x2="133.6" y2="533.0" stroke="#c0a040" stroke-width="1"/><line x1="121.0" y1="540.0" x2="121.5" y2="550.0" stroke="#c0a040" stroke-width="1"/><line x1="146.0" y1="541.0" x2="147.0" y2="551.0" stroke="#c0a040" stroke-width="1"/><line x1="108.8" y1="516.0" x2="111.0" y2="523.0" stroke="#c0a040" stroke-width="1"/><line x1="96.0" y1="530.0" x2="97.0" y2="541.0" stroke="#c0a040" stroke-width="1"/><line x1="86.0" y1="518.0" x2="92.0" y2="519.0" stroke="#c0a040" stroke-width="1"/>
<g fill="none" stroke="#8a929c" stroke-width="1.8" stroke-linejoin="round"><polyline points="184.5,440.5 192.4,440.5 195.8,437.7"/><polyline points="192.4,440.5 193.0,450.0 200.3,451.8 207.0,448.4 212.7,452.9 219.4,447.8"/><polyline points="193.0,450.0 187.9,453.5"/><polyline points="200.3,451.8 200.3,458.5"/><polyline points="207.0,448.4 207.0,442.2"/><polyline points="212.7,452.9 213.2,458.0"/><polyline points="219.4,447.8 220.5,444.5"/></g>
<g fill="#8a919a"><circle cx="192.4" cy="440.5" r="1.9"/><circle cx="193.0" cy="450.0" r="1.9"/><circle cx="200.3" cy="451.8" r="1.9"/><circle cx="207.0" cy="448.4" r="1.9"/><circle cx="212.7" cy="452.9" r="1.9"/></g>
<g fill="url(#gY)"><circle cx="184.5" cy="440.5" r="2.6"/><circle cx="195.8" cy="437.7" r="2.6"/><circle cx="191.3" cy="439.4" r="2.6"/><circle cx="187.9" cy="453.5" r="2.6"/><circle cx="200.3" cy="458.5" r="2.6"/><circle cx="207.0" cy="442.2" r="2.6"/><circle cx="213.2" cy="458.0" r="2.6"/><circle cx="220.5" cy="444.5" r="2.6"/></g>
<g fill-opacity="0.88" stroke-width="0.8"><ellipse cx="214.9" cy="449.5" rx="3.8" ry="2.7" fill="url(#ll)" stroke="#86a024" transform="rotate(-30 214.9 449.5)"/><ellipse cx="229.5" cy="450.1" rx="6.5" ry="6.5" fill="url(#lg)" stroke="#2a8a50" transform="rotate(0 229.5 450.1)"/><ellipse cx="222.2" cy="454.0" rx="4.3" ry="4.3" fill="url(#lc)" stroke="#2a9888" transform="rotate(0 222.2 454.0)"/><ellipse cx="226.2" cy="458.0" rx="4.3" ry="4.3" fill="url(#lg)" stroke="#2a8a50" transform="rotate(0 226.2 458.0)"/><ellipse cx="230.0" cy="452.0" rx="3.2" ry="3.2" fill="url(#ll)" stroke="#86a024" transform="rotate(0 230.0 452.0)"/></g>
<circle cx="225.6" cy="420.3" r="1.6" fill="#9a1020"/><circle cx="210.4" cy="429.8" r="1.6" fill="#9a1020"/><line x1="250.4" y1="461.9" x2="262.2" y2="457.4" stroke="#c01020" stroke-width="1"/><circle cx="250.8" cy="461.7" r="1.7" fill="#9a1020"/><circle cx="261.8" cy="457.6" r="1.7" fill="#9a1020"/><circle cx="256.3" cy="459.6" r="1.5" fill="#a09060"/>
<g fill="none" stroke="#8a929c" stroke-width="1.8" stroke-linejoin="round"><polyline points="188.4,502.6 195.8,502.6 200.3,499.8"/><polyline points="195.8,502.6 197.5,512.2 203.6,515.0 211.5,511.0 217.7,516.1 225.0,511.0 231.2,516.7"/><polyline points="197.5,512.2 191.8,515.5"/><polyline points="203.6,515.0 204.2,521.2"/><polyline points="211.5,511.0 211.5,504.8"/><polyline points="217.7,516.1 218.3,520.6"/><polyline points="225.0,511.0 225.0,506.5"/><polyline points="231.2,516.7 232.4,519.5"/></g>
<g fill="#8a919a"><circle cx="195.8" cy="502.6" r="1.9"/><circle cx="197.5" cy="512.2" r="1.9"/><circle cx="203.6" cy="515.0" r="1.9"/><circle cx="211.5" cy="511.0" r="1.9"/><circle cx="217.7" cy="516.1" r="1.9"/><circle cx="225.0" cy="511.0" r="1.9"/></g>
<g fill="url(#gY)"><circle cx="188.4" cy="502.6" r="2.6"/><circle cx="200.3" cy="499.8" r="2.6"/><circle cx="191.8" cy="515.5" r="2.6"/><circle cx="204.2" cy="521.2" r="2.6"/><circle cx="211.5" cy="504.8" r="2.6"/><circle cx="218.3" cy="520.6" r="2.6"/><circle cx="225.0" cy="506.5" r="2.6"/><circle cx="232.4" cy="519.5" r="2.6"/></g>
<g fill-opacity="0.88" stroke-width="0.8"><ellipse cx="212.1" cy="489.1" rx="3.9" ry="3.9" fill="url(#lp)" stroke="#7034b4" transform="rotate(0 212.1 489.1)"/><ellipse cx="214.3" cy="493.6" rx="3.9" ry="3.9" fill="url(#lb)" stroke="#4a7cc4" transform="rotate(0 214.3 493.6)"/></g>
<circle cx="230.1" cy="483.4" r="1.6" fill="#9a1020"/><line x1="249.3" y1="529.0" x2="262.2" y2="525.7" stroke="#c01020" stroke-width="1"/><circle cx="249.7" cy="528.9" r="1.7" fill="#9a1020"/><circle cx="261.8" cy="525.8" r="1.7" fill="#9a1020"/><circle cx="255.7" cy="527.4" r="1.5" fill="#a09060"/>
<g fill="none" stroke="#8a929c" stroke-width="1.8" stroke-linejoin="round"><polyline points="290.0,382.0 297.0,386.0 302.5,377.5"/></g>
<g fill="#8a919a"><circle cx="297.0" cy="386.0" r="1.9"/></g>
<g fill="url(#gY)"><circle cx="290.0" cy="382.0" r="2.6"/></g>
<g fill-opacity="0.88" stroke-width="0.8"><ellipse cx="299.0" cy="392.0" rx="5.9" ry="8.6" fill="url(#lg)" stroke="#2a8a50" transform="rotate(-20 299.0 392.0)"/><ellipse cx="310.0" cy="389.0" rx="6.5" ry="6.5" fill="url(#ll)" stroke="#86a024" transform="rotate(0 310.0 389.0)"/><ellipse cx="318.0" cy="395.0" rx="6.5" ry="7.6" fill="url(#lg)" stroke="#2a8a50" transform="rotate(0 318.0 395.0)"/><ellipse cx="324.0" cy="389.0" rx="6.5" ry="6.5" fill="url(#ll)" stroke="#86a024" transform="rotate(0 324.0 389.0)"/><ellipse cx="334.0" cy="394.0" rx="6.5" ry="7.6" fill="url(#lg)" stroke="#2a8a50" transform="rotate(0 334.0 394.0)"/><ellipse cx="337.0" cy="388.0" rx="5.4" ry="5.4" fill="url(#ll)" stroke="#86a024" transform="rotate(0 337.0 388.0)"/><ellipse cx="305.0" cy="397.0" rx="4.3" ry="5.4" fill="url(#ll)" stroke="#86a024" transform="rotate(0 305.0 397.0)"/><ellipse cx="302.5" cy="377.5" rx="3.2" ry="3.2" fill="url(#lg)" stroke="#2a8a50" transform="rotate(0 302.5 377.5)"/><ellipse cx="292.0" cy="399.0" rx="3.2" ry="3.2" fill="url(#lg)" stroke="#2a8a50" transform="rotate(0 292.0 399.0)"/><ellipse cx="296.0" cy="397.0" rx="2.7" ry="2.7" fill="url(#ll)" stroke="#86a024" transform="rotate(0 296.0 397.0)"/><ellipse cx="310.0" cy="403.0" rx="3.2" ry="3.2" fill="url(#ll)" stroke="#86a024" transform="rotate(0 310.0 403.0)"/><ellipse cx="327.0" cy="401.0" rx="3.2" ry="3.2" fill="url(#lg)" stroke="#2a8a50" transform="rotate(0 327.0 401.0)"/><ellipse cx="318.0" cy="382.0" rx="3.2" ry="3.2" fill="url(#lg)" stroke="#2a8a50" transform="rotate(0 318.0 382.0)"/><ellipse cx="333.0" cy="382.0" rx="3.2" ry="3.2" fill="url(#lg)" stroke="#2a8a50" transform="rotate(0 333.0 382.0)"/><ellipse cx="346.0" cy="394.0" rx="3.8" ry="3.8" fill="url(#lg)" stroke="#2a8a50" transform="rotate(0 346.0 394.0)"/><ellipse cx="345.0" cy="401.0" rx="2.7" ry="2.7" fill="url(#ll)" stroke="#86a024" transform="rotate(0 345.0 401.0)"/></g>
<circle cx="353.5" cy="372.0" r="1.9" fill="#9a1020"/><circle cx="357.5" cy="385.5" r="1.9" fill="#9a1020"/><line x1="353.5" y1="372.0" x2="357.5" y2="385.5" stroke="#b06060" stroke-width="1"/>
<g fill="none" stroke="#8a929c" stroke-width="1.8" stroke-linejoin="round"><polyline points="287.5,476.3 297.5,476.9 301.3,471.3"/><polyline points="297.5,476.9 298.8,486.9 308.2,490.7 315.7,485.7 323.8,490.0 332.6,481.9"/><polyline points="298.8,486.9 293.1,493.2"/><polyline points="308.2,490.7 308.8,498.2"/><polyline points="315.7,485.7 316.9,477.5"/><polyline points="323.8,490.0 325.0,495.7"/><polyline points="332.6,481.9 332.0,476.9"/></g>
<g fill="#8a919a"><circle cx="297.5" cy="476.9" r="1.9"/><circle cx="298.8" cy="486.9" r="1.9"/><circle cx="308.2" cy="490.7" r="1.9"/><circle cx="315.7" cy="485.7" r="1.9"/><circle cx="323.8" cy="490.0" r="1.9"/></g>
<g fill="url(#gY)"><circle cx="287.5" cy="476.3" r="2.6"/><circle cx="301.3" cy="471.3" r="2.6"/><circle cx="293.1" cy="493.2" r="2.6"/><circle cx="308.8" cy="498.2" r="2.6"/><circle cx="316.9" cy="477.5" r="2.6"/><circle cx="325.0" cy="495.7" r="2.6"/><circle cx="332.0" cy="476.9" r="2.6"/></g>
<g fill-opacity="0.88" stroke-width="0.8"><ellipse cx="328.8" cy="486.3" rx="5.4" ry="3.2" fill="url(#lp)" stroke="#7034b4" transform="rotate(-30 328.8 486.3)"/><ellipse cx="337.6" cy="490.0" rx="6.5" ry="3.8" fill="url(#lb)" stroke="#4a7cc4" transform="rotate(40 337.6 490.0)"/><ellipse cx="345.0" cy="486.3" rx="5.9" ry="5.9" fill="url(#lp)" stroke="#7034b4" transform="rotate(0 345.0 486.3)"/><ellipse cx="341.3" cy="498.2" rx="3.2" ry="3.2" fill="url(#lp)" stroke="#7034b4" transform="rotate(0 341.3 498.2)"/><ellipse cx="346.0" cy="494.5" rx="2.7" ry="2.7" fill="url(#lb)" stroke="#4a7cc4" transform="rotate(0 346.0 494.5)"/></g>
<circle cx="362.6" cy="463.8" r="1.8" fill="#9a1020"/><circle cx="367.0" cy="476.9" r="1.8" fill="#9a1020"/><line x1="362.6" y1="463.8" x2="367.0" y2="476.9" stroke="#b06060" stroke-width="1"/>
<g fill="none" stroke="#8a929c" stroke-width="1.8" stroke-linejoin="round"><polyline points="383.6,380.0 392.0,382.0 394.9,373.9"/></g>
<g fill="#8a919a"><circle cx="392.0" cy="382.0" r="1.9"/></g>
<g fill="url(#gY)"><circle cx="383.6" cy="380.0" r="2.6"/><circle cx="394.9" cy="373.9" r="2.6"/><circle cx="400.5" cy="373.9" r="2.6"/></g>
<g fill-opacity="0.88" stroke-width="0.8"><ellipse cx="392.0" cy="386.0" rx="6.5" ry="9.7" fill="url(#ll)" stroke="#86a024" transform="rotate(-30 392.0 386.0)"/><ellipse cx="403.9" cy="396.5" rx="8.6" ry="6.5" fill="url(#ll)" stroke="#86a024" transform="rotate(20 403.9 396.5)"/><ellipse cx="423.0" cy="394.0" rx="11.9" ry="8.6" fill="url(#ll)" stroke="#86a024" transform="rotate(0 423.0 394.0)"/><ellipse cx="443.3" cy="392.0" rx="8.6" ry="9.7" fill="url(#ll)" stroke="#86a024" transform="rotate(0 443.3 392.0)"/><ellipse cx="408.4" cy="386.3" rx="8.6" ry="8.6" fill="url(#lg)" stroke="#2a8a50" transform="rotate(0 408.4 386.3)"/><ellipse cx="431.0" cy="384.0" rx="9.7" ry="7.6" fill="url(#lg)" stroke="#2a8a50" transform="rotate(0 431.0 384.0)"/><ellipse cx="451.2" cy="384.0" rx="7.6" ry="6.5" fill="url(#lg)" stroke="#2a8a50" transform="rotate(0 451.2 384.0)"/><ellipse cx="420.8" cy="375.0" rx="3.8" ry="3.8" fill="url(#lg)" stroke="#2a8a50" transform="rotate(0 420.8 375.0)"/><ellipse cx="443.3" cy="374.4" rx="3.8" ry="3.8" fill="url(#ll)" stroke="#86a024" transform="rotate(0 443.3 374.4)"/><ellipse cx="388.1" cy="400.9" rx="3.8" ry="3.8" fill="url(#ll)" stroke="#86a024" transform="rotate(0 388.1 400.9)"/><ellipse cx="393.8" cy="397.5" rx="3.8" ry="3.8" fill="url(#lg)" stroke="#2a8a50" transform="rotate(0 393.8 397.5)"/><ellipse cx="412.9" cy="404.3" rx="4.3" ry="4.3" fill="url(#lg)" stroke="#2a8a50" transform="rotate(0 412.9 404.3)"/><ellipse cx="414.0" cy="409.4" rx="3.2" ry="3.2" fill="url(#ll)" stroke="#86a024" transform="rotate(0 414.0 409.4)"/><ellipse cx="436.6" cy="403.2" rx="4.3" ry="4.3" fill="url(#lg)" stroke="#2a8a50" transform="rotate(0 436.6 403.2)"/><ellipse cx="456.8" cy="397.5" rx="3.8" ry="3.8" fill="url(#ll)" stroke="#86a024" transform="rotate(0 456.8 397.5)"/><ellipse cx="459.0" cy="390.8" rx="3.2" ry="3.2" fill="url(#lg)" stroke="#2a8a50" transform="rotate(0 459.0 390.8)"/><ellipse cx="472.2" cy="385.0" rx="2.5" ry="2.5" fill="url(#lc)" stroke="#2a9888" transform="rotate(0 472.2 385.0)"/></g>
<circle cx="464.4" cy="381.8" r="2.8" fill="#9a1020"/><circle cx="481.5" cy="394.9" r="2.8" fill="#9a1020"/><line x1="481.5" y1="394.9" x2="476.6" y2="401.4" stroke="#c08080" stroke-width="1"/><circle cx="476.6" cy="401.4" r="1.2" fill="#a09060"/>
<g fill="none" stroke="#8a929c" stroke-width="1.8" stroke-linejoin="round"><polyline points="381.4,517.5 390.3,514.3 396.0,511.8"/></g>
<g fill="#8a919a"><circle cx="390.3" cy="514.3" r="1.9"/></g>
<g fill="url(#gY)"><circle cx="381.4" cy="517.5" r="2.6"/><circle cx="396.0" cy="511.8" r="2.6"/></g>
<g fill-opacity="0.88" stroke-width="0.8"><ellipse cx="391.2" cy="524.0" rx="3.2" ry="6.5" fill="url(#lb)" stroke="#4a7cc4" transform="rotate(0 391.2 524.0)"/><ellipse cx="386.3" cy="533.0" rx="3.2" ry="3.2" fill="url(#lp)" stroke="#7034b4" transform="rotate(0 386.3 533.0)"/><ellipse cx="390.3" cy="534.6" rx="3.2" ry="3.2" fill="url(#lb)" stroke="#4a7cc4" transform="rotate(0 390.3 534.6)"/><ellipse cx="398.5" cy="528.9" rx="6.5" ry="5.4" fill="url(#lp)" stroke="#7034b4" transform="rotate(0 398.5 528.9)"/><ellipse cx="409.0" cy="515.1" rx="3.8" ry="3.8" fill="url(#lp)" stroke="#7034b4" transform="rotate(0 409.0 515.1)"/><ellipse cx="414.7" cy="515.1" rx="3.8" ry="3.8" fill="url(#lb)" stroke="#4a7cc4" transform="rotate(0 414.7 515.1)"/><ellipse cx="409.0" cy="525.7" rx="4.3" ry="6.5" fill="url(#lb)" stroke="#4a7cc4" transform="rotate(0 409.0 525.7)"/><ellipse cx="417.2" cy="525.7" rx="4.3" ry="7.6" fill="url(#lp)" stroke="#7034b4" transform="rotate(0 417.2 525.7)"/><ellipse cx="420.4" cy="533.8" rx="4.3" ry="4.3" fill="url(#lb)" stroke="#4a7cc4" transform="rotate(0 420.4 533.8)"/><ellipse cx="426.1" cy="532.2" rx="3.8" ry="3.8" fill="url(#lp)" stroke="#7034b4" transform="rotate(0 426.1 532.2)"/><ellipse cx="427.0" cy="515.1" rx="3.8" ry="3.8" fill="url(#lp)" stroke="#7034b4" transform="rotate(0 427.0 515.1)"/><ellipse cx="432.6" cy="514.3" rx="3.8" ry="3.8" fill="url(#lb)" stroke="#4a7cc4" transform="rotate(0 432.6 514.3)"/><ellipse cx="425.3" cy="524.0" rx="4.3" ry="5.4" fill="url(#lb)" stroke="#4a7cc4" transform="rotate(0 425.3 524.0)"/><ellipse cx="435.1" cy="524.0" rx="5.4" ry="6.5" fill="url(#lp)" stroke="#7034b4" transform="rotate(0 435.1 524.0)"/><ellipse cx="440.0" cy="532.2" rx="3.8" ry="3.8" fill="url(#lp)" stroke="#7034b4" transform="rotate(0 440.0 532.2)"/><ellipse cx="442.4" cy="529.7" rx="3.2" ry="3.2" fill="url(#lb)" stroke="#4a7cc4" transform="rotate(0 442.4 529.7)"/><ellipse cx="404.2" cy="538.7" rx="3.8" ry="3.8" fill="url(#lb)" stroke="#4a7cc4" transform="rotate(0 404.2 538.7)"/><ellipse cx="409.0" cy="539.5" rx="3.2" ry="3.2" fill="url(#lp)" stroke="#7034b4" transform="rotate(0 409.0 539.5)"/><ellipse cx="422.0" cy="537.0" rx="3.2" ry="3.2" fill="url(#lb)" stroke="#4a7cc4" transform="rotate(0 422.0 537.0)"/><ellipse cx="427.8" cy="536.3" rx="3.2" ry="3.2" fill="url(#lp)" stroke="#7034b4" transform="rotate(0 427.8 536.3)"/><ellipse cx="444.8" cy="518.4" rx="3.2" ry="3.2" fill="url(#lp)" stroke="#7034b4" transform="rotate(0 444.8 518.4)"/><ellipse cx="449.7" cy="520.0" rx="2.2" ry="2.2" fill="url(#lp)" stroke="#7034b4" transform="rotate(0 449.7 520.0)"/><ellipse cx="460.3" cy="530.6" rx="2.7" ry="2.7" fill="url(#lp)" stroke="#7034b4" transform="rotate(0 460.3 530.6)"/><ellipse cx="463.6" cy="531.4" rx="2.7" ry="2.7" fill="url(#lp)" stroke="#7034b4" transform="rotate(0 463.6 531.4)"/></g>

<g fill="none" stroke="#8a929c" stroke-width="1.8" stroke-linejoin="round"><polyline points="499.5,384.5 506.0,386.0 509.5,378.0"/></g>
<g fill="#8a919a"><circle cx="506.0" cy="386.0" r="1.9"/></g>
<g fill="url(#gY)"><circle cx="499.5" cy="384.5" r="2.6"/><circle cx="509.5" cy="378.0" r="2.6"/><circle cx="504.5" cy="399.0" r="2.6"/><circle cx="552.0" cy="378.0" r="2.6"/><circle cx="548.0" cy="390.5" r="2.6"/></g>
<g fill-opacity="0.88" stroke-width="0.8"><ellipse cx="511.0" cy="390.0" rx="7.6" ry="4.3" fill="url(#ll)" stroke="#86a024" transform="rotate(30 511.0 390.0)"/><ellipse cx="517.0" cy="386.0" rx="6.5" ry="6.5" fill="url(#lg)" stroke="#2a8a50" transform="rotate(0 517.0 386.0)"/><ellipse cx="523.0" cy="396.0" rx="5.4" ry="5.4" fill="url(#lg)" stroke="#2a8a50" transform="rotate(0 523.0 396.0)"/><ellipse cx="527.0" cy="390.0" rx="6.5" ry="6.5" fill="url(#ll)" stroke="#86a024" transform="rotate(0 527.0 390.0)"/><ellipse cx="531.0" cy="383.0" rx="6.5" ry="6.5" fill="url(#lg)" stroke="#2a8a50" transform="rotate(0 531.0 383.0)"/><ellipse cx="535.0" cy="393.0" rx="5.4" ry="5.4" fill="url(#lg)" stroke="#2a8a50" transform="rotate(0 535.0 393.0)"/><ellipse cx="539.0" cy="388.0" rx="5.4" ry="5.4" fill="url(#ll)" stroke="#86a024" transform="rotate(0 539.0 388.0)"/><ellipse cx="541.0" cy="379.0" rx="6.5" ry="4.3" fill="url(#lg)" stroke="#2a8a50" transform="rotate(-30 541.0 379.0)"/><ellipse cx="523.0" cy="379.0" rx="3.2" ry="3.2" fill="url(#lg)" stroke="#2a8a50" transform="rotate(0 523.0 379.0)"/><ellipse cx="508.0" cy="396.0" rx="4.3" ry="4.3" fill="url(#lg)" stroke="#2a8a50" transform="rotate(0 508.0 396.0)"/></g>
<line x1="552.0" y1="409.0" x2="565.5" y2="395.5" stroke="#c07070" stroke-width="1"/><circle cx="552.0" cy="409.0" r="1.6" fill="#a09060"/><circle cx="565.5" cy="395.5" r="1.8" fill="#9a1020"/>
<g fill="none" stroke="#8a929c" stroke-width="1.8" stroke-linejoin="round"><polyline points="497.5,460.0 504.0,460.0 507.0,453.5"/><polyline points="504.0,460.0 508.5,466.0 515.5,468.0 521.5,462.0 529.0,464.5 533.0,457.0"/><polyline points="508.5,466.0 505.0,472.0"/><polyline points="515.5,468.0 518.0,473.5"/><polyline points="521.5,462.0 519.5,455.5"/><polyline points="529.0,464.5 530.0,468.0"/><polyline points="533.0,457.0 532.5,452.0"/></g>
<g fill="#8a919a"><circle cx="504.0" cy="460.0" r="1.9"/><circle cx="508.5" cy="466.0" r="1.9"/><circle cx="515.5" cy="468.0" r="1.9"/><circle cx="521.5" cy="462.0" r="1.9"/><circle cx="529.0" cy="464.5" r="1.9"/></g>
<g fill="url(#gY)"><circle cx="497.5" cy="460.0" r="2.6"/><circle cx="507.0" cy="453.5" r="2.6"/><circle cx="505.0" cy="472.0" r="2.6"/><circle cx="518.0" cy="473.5" r="2.6"/><circle cx="519.5" cy="455.5" r="2.6"/><circle cx="530.0" cy="468.0" r="2.6"/><circle cx="532.5" cy="452.0" r="2.6"/></g>
<g fill-opacity="0.88" stroke-width="0.8"><ellipse cx="539.0" cy="457.5" rx="6.5" ry="3.8" fill="url(#lp)" stroke="#7034b4" transform="rotate(20 539.0 457.5)"/><ellipse cx="547.5" cy="453.0" rx="3.8" ry="3.8" fill="url(#lb)" stroke="#4a7cc4" transform="rotate(0 547.5 453.0)"/><ellipse cx="543.0" cy="463.0" rx="4.3" ry="4.3" fill="url(#lb)" stroke="#4a7cc4" transform="rotate(0 543.0 463.0)"/><ellipse cx="546.0" cy="466.0" rx="3.2" ry="3.2" fill="url(#lb)" stroke="#4a7cc4" transform="rotate(0 546.0 466.0)"/><ellipse cx="547.0" cy="459.0" rx="3.2" ry="3.2" fill="url(#lb)" stroke="#4a7cc4" transform="rotate(0 547.0 459.0)"/></g>
<line x1="550.0" y1="481.5" x2="563.0" y2="468.0" stroke="#c07070" stroke-width="1"/><circle cx="550.0" cy="481.5" r="1.6" fill="#a09060"/><circle cx="563.0" cy="468.0" r="1.8" fill="#9a1020"/>
<g fill="none" stroke="#8a929c" stroke-width="1.8" stroke-linejoin="round"><polyline points="590.0,421.9 599.6,419.6 602.5,411.8"/><polyline points="599.6,419.6 604.7,428.1 614.3,428.6 619.3,423.0 623.3,425.8 634.5,429.2 640.2,418.5"/><polyline points="604.7,428.1 601.9,429.8"/><polyline points="604.7,428.1 603.6,436.5"/><polyline points="619.3,423.0 621.6,416.3"/><polyline points="614.3,428.6 619.9,435.4"/><polyline points="634.5,429.2 635.7,437.7"/><polyline points="640.2,418.5 640.2,411.8"/></g>
<g fill="#8a919a"><circle cx="599.6" cy="419.6" r="1.9"/><circle cx="604.7" cy="428.1" r="1.9"/><circle cx="614.3" cy="428.6" r="1.9"/><circle cx="619.3" cy="423.0" r="1.9"/><circle cx="623.3" cy="425.8" r="1.9"/><circle cx="634.5" cy="429.2" r="1.9"/></g>
<g fill="url(#gY)"><circle cx="590.0" cy="421.9" r="2.6"/><circle cx="602.5" cy="411.8" r="2.6"/><circle cx="601.9" cy="429.8" r="2.6"/><circle cx="603.6" cy="436.5" r="2.6"/><circle cx="621.6" cy="416.3" r="2.6"/><circle cx="618.8" cy="419.6" r="2.6"/><circle cx="619.9" cy="435.4" r="2.6"/><circle cx="635.7" cy="437.7" r="2.6"/><circle cx="640.2" cy="411.8" r="2.6"/><circle cx="668.3" cy="443.9" r="2.6"/></g>
<g fill-opacity="0.88" stroke-width="0.8"><ellipse cx="626.7" cy="428.6" rx="4.3" ry="3.2" fill="url(#ll)" stroke="#86a024" transform="rotate(0 626.7 428.6)"/><ellipse cx="633.4" cy="424.1" rx="4.3" ry="5.4" fill="url(#lg)" stroke="#2a8a50" transform="rotate(0 633.4 424.1)"/><ellipse cx="647.5" cy="421.9" rx="8.6" ry="6.5" fill="url(#lg)" stroke="#2a8a50" transform="rotate(0 647.5 421.9)"/><ellipse cx="645.8" cy="429.8" rx="8.6" ry="7.6" fill="url(#ll)" stroke="#86a024" transform="rotate(0 645.8 429.8)"/><ellipse cx="658.2" cy="421.9" rx="6.5" ry="6.5" fill="url(#lg)" stroke="#2a8a50" transform="rotate(0 658.2 421.9)"/><ellipse cx="657.1" cy="429.2" rx="5.4" ry="5.4" fill="url(#lg)" stroke="#2a8a50" transform="rotate(0 657.1 429.2)"/><ellipse cx="651.4" cy="437.1" rx="5.4" ry="5.4" fill="url(#lg)" stroke="#2a8a50" transform="rotate(0 651.4 437.1)"/><ellipse cx="641.3" cy="425.3" rx="4.3" ry="4.3" fill="url(#ll)" stroke="#86a024" transform="rotate(0 641.3 425.3)"/><ellipse cx="656.0" cy="424.0" rx="4.3" ry="4.3" fill="url(#ll)" stroke="#86a024" transform="rotate(0 656.0 424.0)"/></g>

<g fill="none" stroke="#8a929c" stroke-width="1.8" stroke-linejoin="round"><polyline points="594.5,515.0 602.0,513.0 604.0,506.0"/><polyline points="602.0,513.0 606.0,519.5 614.0,519.5 619.0,515.0 621.0,518.0"/><polyline points="606.0,519.5 604.5,522.0"/><polyline points="606.0,519.5 606.0,527.0"/><polyline points="619.0,515.0 620.0,509.0"/><polyline points="614.0,519.5 619.0,525.5"/><polyline points="630.0,518.0 632.0,526.5"/></g>
<g fill="#8a919a"><circle cx="602.0" cy="513.0" r="1.9"/><circle cx="606.0" cy="519.5" r="1.9"/><circle cx="614.0" cy="519.5" r="1.9"/><circle cx="619.0" cy="515.0" r="1.9"/></g>
<g fill="url(#gY)"><circle cx="594.5" cy="515.0" r="2.6"/><circle cx="604.0" cy="506.0" r="2.6"/><circle cx="604.5" cy="522.0" r="2.6"/><circle cx="606.0" cy="527.0" r="2.6"/><circle cx="620.0" cy="509.0" r="2.6"/><circle cx="618.0" cy="513.0" r="2.6"/><circle cx="619.0" cy="525.5" r="2.6"/><circle cx="632.0" cy="526.5" r="2.6"/><circle cx="660.0" cy="530.0" r="2.6"/><circle cx="685.3" cy="524.0" r="2.6"/></g>
<g fill-opacity="0.88" stroke-width="0.8"><ellipse cx="624.5" cy="517.5" rx="4.3" ry="3.2" fill="url(#lb)" stroke="#4a7cc4" transform="rotate(0 624.5 517.5)"/><ellipse cx="629.0" cy="516.0" rx="4.3" ry="4.3" fill="url(#lb)" stroke="#4a7cc4" transform="rotate(0 629.0 516.0)"/><ellipse cx="632.5" cy="515.5" rx="4.3" ry="5.4" fill="url(#lp)" stroke="#7034b4" transform="rotate(0 632.5 515.5)"/><ellipse cx="636.0" cy="505.5" rx="3.8" ry="2.7" fill="url(#lq)" stroke="#6a60b4" transform="rotate(0 636.0 505.5)"/><ellipse cx="639.0" cy="515.5" rx="4.9" ry="4.9" fill="url(#lb)" stroke="#4a7cc4" transform="rotate(0 639.0 515.5)"/><ellipse cx="647.0" cy="513.0" rx="5.4" ry="5.4" fill="url(#lp)" stroke="#7034b4" transform="rotate(0 647.0 513.0)"/><ellipse cx="653.5" cy="517.0" rx="4.9" ry="4.9" fill="url(#lb)" stroke="#4a7cc4" transform="rotate(0 653.5 517.0)"/><ellipse cx="646.0" cy="522.0" rx="4.3" ry="4.3" fill="url(#lp)" stroke="#7034b4" transform="rotate(0 646.0 522.0)"/><ellipse cx="644.0" cy="524.0" rx="3.2" ry="3.2" fill="url(#lb)" stroke="#4a7cc4" transform="rotate(0 644.0 524.0)"/></g>

<g fill="none" stroke="#8a929c" stroke-width="1.8" stroke-linejoin="round"><polyline points="705.7,413.0 712.5,412.4 715.8,406.2"/><polyline points="712.5,412.4 716.4,420.3 725.4,420.8 728.8,415.8 736.0,420.0"/><polyline points="716.4,420.3 713.6,425.9"/><polyline points="716.4,420.3 715.8,422.5"/><polyline points="725.4,420.8 727.7,427.6"/><polyline points="728.8,415.8 728.8,411.3"/><polyline points="734.0,422.0 737.2,430.4"/></g>
<g fill="#8a919a"><circle cx="712.5" cy="412.4" r="1.9"/><circle cx="716.4" cy="420.3" r="1.9"/><circle cx="725.4" cy="420.8" r="1.9"/><circle cx="728.8" cy="415.8" r="1.9"/></g>
<g fill="url(#gY)"><circle cx="705.7" cy="413.0" r="2.6"/><circle cx="715.8" cy="406.2" r="2.6"/><circle cx="713.6" cy="425.9" r="2.6"/><circle cx="724.8" cy="423.0" r="2.6"/><circle cx="727.7" cy="427.6" r="2.6"/><circle cx="728.8" cy="411.3" r="2.6"/><circle cx="737.2" cy="430.4" r="2.6"/><circle cx="699.5" cy="438.9" r="2.6"/><circle cx="767.6" cy="416.9" r="2.6"/><circle cx="771.0" cy="427.6" r="2.6"/></g>
<g fill-opacity="0.88" stroke-width="0.8"><ellipse cx="732.2" cy="422.0" rx="4.3" ry="3.2" fill="url(#lc)" stroke="#2a9888" transform="rotate(0 732.2 422.0)"/><ellipse cx="736.7" cy="418.6" rx="4.3" ry="4.3" fill="url(#lg)" stroke="#2a8a50" transform="rotate(0 736.7 418.6)"/><ellipse cx="744.0" cy="411.3" rx="3.2" ry="3.2" fill="url(#ll)" stroke="#86a024" transform="rotate(0 744.0 411.3)"/><ellipse cx="747.9" cy="419.1" rx="6.5" ry="6.5" fill="url(#ll)" stroke="#86a024" transform="rotate(0 747.9 419.1)"/><ellipse cx="746.8" cy="425.9" rx="7.0" ry="7.0" fill="url(#lg)" stroke="#2a8a50" transform="rotate(0 746.8 425.9)"/><ellipse cx="756.4" cy="420.8" rx="5.4" ry="5.4" fill="url(#lg)" stroke="#2a8a50" transform="rotate(0 756.4 420.8)"/><ellipse cx="755.2" cy="425.3" rx="4.3" ry="4.3" fill="url(#ll)" stroke="#86a024" transform="rotate(0 755.2 425.3)"/><ellipse cx="749.6" cy="431.5" rx="4.3" ry="4.3" fill="url(#lg)" stroke="#2a8a50" transform="rotate(0 749.6 431.5)"/></g>

<g fill="none" stroke="#8a929c" stroke-width="1.8" stroke-linejoin="round"><polyline points="701.2,504.6 709.6,504.6 713.6,497.9"/><polyline points="709.6,504.6 713.6,513.1 724.3,513.6 727.7,510.3 738.4,513.6 744.5,511.4 751.3,517.0"/><polyline points="713.6,513.1 710.8,520.4"/><polyline points="724.3,513.6 723.7,517.0 727.1,522.7"/><polyline points="727.7,510.3 727.7,503.5"/><polyline points="738.4,513.6 738.4,524.9"/><polyline points="744.5,511.4 745.7,503.5"/></g>
<g fill="#8a919a"><circle cx="709.6" cy="504.6" r="1.9"/><circle cx="713.6" cy="513.1" r="1.9"/><circle cx="724.3" cy="513.6" r="1.9"/><circle cx="727.7" cy="510.3" r="1.9"/><circle cx="738.4" cy="513.6" r="1.9"/><circle cx="744.5" cy="511.4" r="1.9"/><circle cx="723.7" cy="517.0" r="1.9"/></g>
<g fill="url(#gY)"><circle cx="701.2" cy="504.6" r="2.6"/><circle cx="713.6" cy="497.9" r="2.6"/><circle cx="710.8" cy="520.4" r="2.6"/><circle cx="713.6" cy="514.2" r="2.6"/><circle cx="727.7" cy="503.5" r="2.6"/><circle cx="728.8" cy="508.0" r="2.6"/><circle cx="723.7" cy="517.0" r="2.6"/><circle cx="727.1" cy="522.7" r="2.6"/><circle cx="738.4" cy="524.9" r="2.6"/><circle cx="745.7" cy="503.5" r="2.6"/><circle cx="739.5" cy="512.5" r="2.6"/><circle cx="773.3" cy="524.9" r="2.6"/></g>
<g fill-opacity="0.88" stroke-width="0.8"><ellipse cx="767.6" cy="513.6" rx="4.9" ry="4.9" fill="url(#lp)" stroke="#7034b4" transform="rotate(0 767.6 513.6)"/><ellipse cx="771.6" cy="510.3" rx="4.3" ry="4.3" fill="url(#lb)" stroke="#4a7cc4" transform="rotate(0 771.6 510.3)"/></g>
<line x1="751.3" y1="517.0" x2="758.6" y2="516.5" stroke="#c01020" stroke-width="1"/><line x1="758.6" y1="516.5" x2="752.4" y2="523.2" stroke="#c01020" stroke-width="1"/><line x1="752.4" y1="523.2" x2="751.3" y2="517.0" stroke="#c01020" stroke-width="1"/><circle cx="758.6" cy="516.5" r="1.8" fill="#9a1020"/><circle cx="752.4" cy="523.2" r="1.8" fill="#9a1020"/><line x1="773.3" y1="524.9" x2="777.0" y2="528.0" stroke="#c0b080" stroke-width="1"/>
<rect x="83.2" y="495.0" width="62.4" height="5" fill="#e04b4b"/>
<rect x="83.2" y="393.5" width="62.4" height="5" fill="#4170dc"/>
<rect x="187.5" y="470.0" width="62.4" height="5" fill="#e04b4b"/>
<rect x="187.5" y="410.6" width="62.4" height="5" fill="#4170dc"/>
<rect x="291.8" y="450.8" width="62.4" height="5" fill="#e04b4b"/>
<rect x="291.8" y="356.9" width="62.4" height="5" fill="#4170dc"/>
<rect x="396.1" y="489.9" width="62.4" height="5" fill="#e04b4b"/>
<rect x="396.1" y="356.6" width="62.4" height="5" fill="#4170dc"/>
<rect x="500.4" y="432.5" width="62.4" height="5" fill="#e04b4b"/>
<rect x="500.4" y="360.1" width="62.4" height="5" fill="#4170dc"/>
<rect x="604.7" y="490.1" width="62.4" height="5" fill="#e04b4b"/>
<rect x="604.7" y="395.9" width="62.4" height="5" fill="#4170dc"/>
<rect x="709.0" y="482.0" width="62.4" height="5" fill="#e04b4b"/>
<rect x="709.0" y="385.7" width="62.4" height="5" fill="#4170dc"/>
<rect x="473.5" y="507.5" width="114.5" height="55.5" rx="2.5" fill="#fff" fill-opacity="0.85" stroke="#d6d6d6" stroke-width="1"/>
<line x1="476.5" y1="516.6" x2="503.6" y2="516.6" stroke="#e04b4b" stroke-width="2.6"/>
<line x1="476.5" y1="534.4" x2="503.6" y2="534.4" stroke="#4170dc" stroke-width="2.6"/>
<line x1="476.5" y1="552.4" x2="503.6" y2="552.4" stroke="#5b8dc2" stroke-width="4.6"/>
<text x="513" y="521.2" font-family="Liberation Sans, sans-serif" font-size="12">HOMO Level</text>
<text x="513" y="539.0" font-family="Liberation Sans, sans-serif" font-size="12">LUMO Level</text>
<text x="513" y="557.0" font-family="Liberation Sans, sans-serif" font-size="12">Energy Gap</text></svg>
</body></html>
